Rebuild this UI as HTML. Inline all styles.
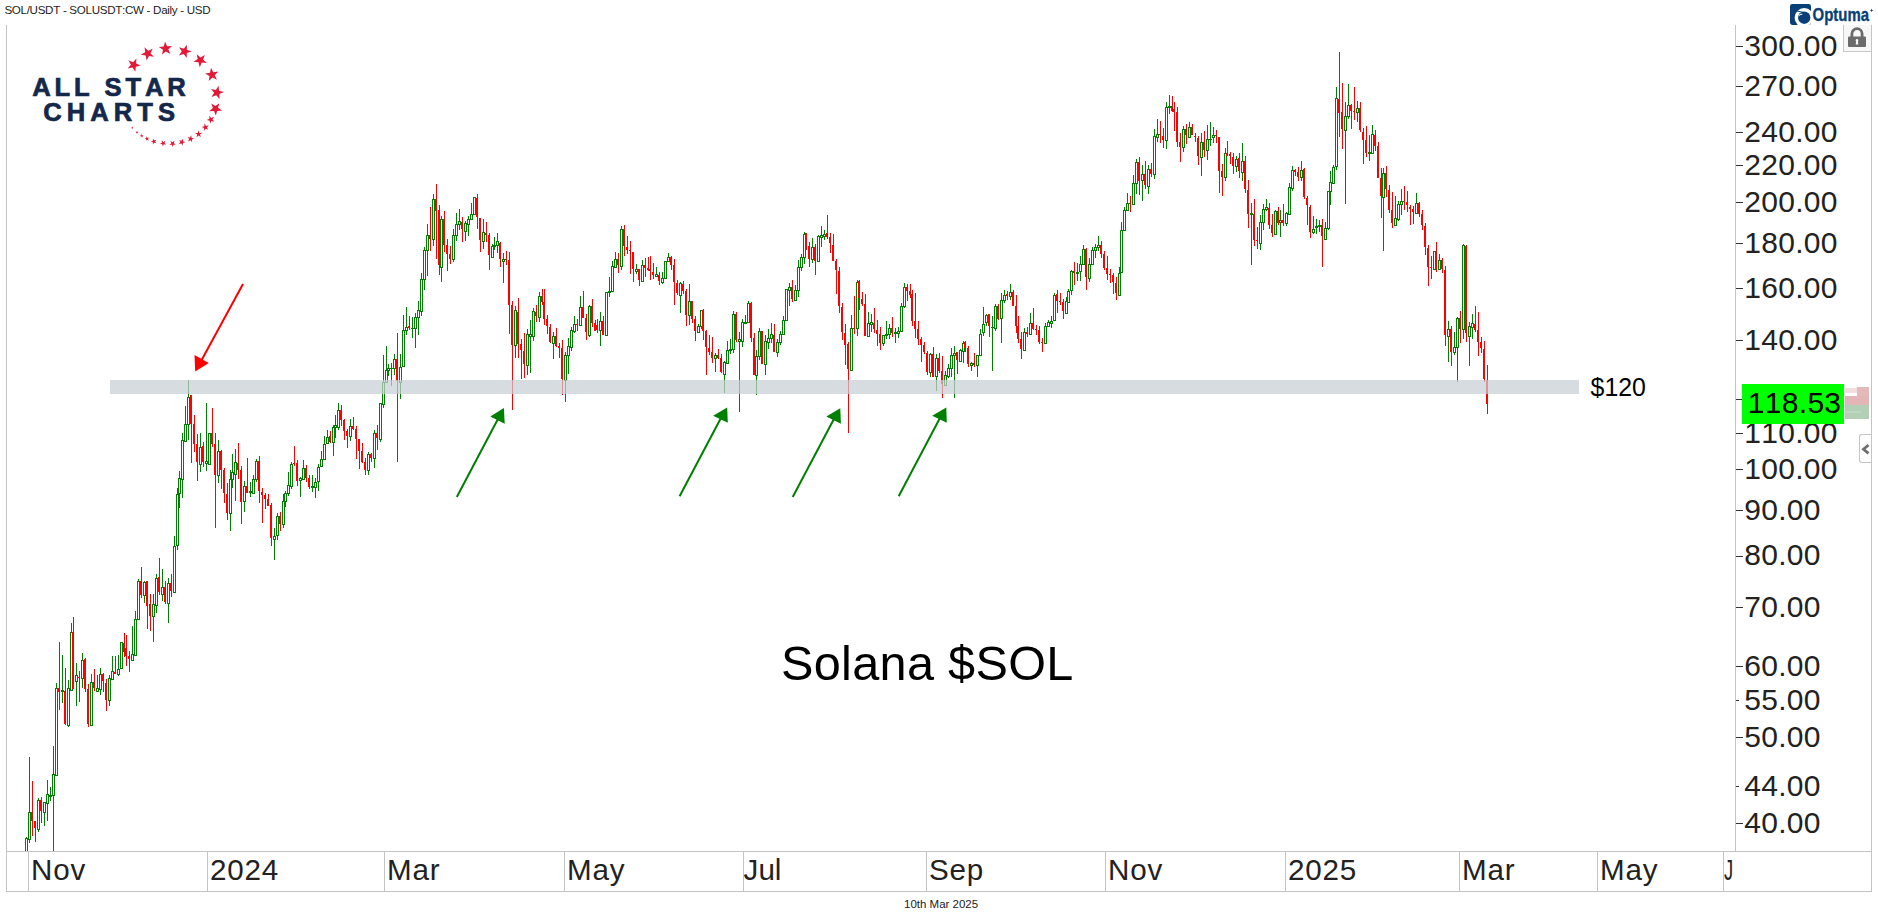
<!DOCTYPE html>
<html><head><meta charset="utf-8"><title>SOL/USDT</title>
<style>
html,body{margin:0;padding:0;background:#fff;}
body{font-kerning:none;width:1878px;height:924px;position:relative;overflow:hidden;font-family:"Liberation Sans",Arial,sans-serif;}
.abs{position:absolute;}
.ln{position:absolute;background:#c4c4c4;}
.pl{position:absolute;left:1744.2px;font-size:30px;line-height:30px;height:30px;color:#222;white-space:nowrap;letter-spacing:0.3px;}
.tk{position:absolute;left:1736px;width:7px;height:1px;background:#333;}
.dl{position:absolute;top:852.2px;font-size:29.6px;line-height:36px;color:#222;white-space:nowrap;letter-spacing:0.8px;}
.dt{position:absolute;top:852px;width:1px;height:39px;background:#c4c4c4;}
svg{position:absolute;left:0;top:0;}
</style></head><body>
<div class="abs" id="title" style="left:4.4px;top:1.8px;font-size:11.6px;line-height:15px;color:#1c1c1c;white-space:nowrap;letter-spacing:-0.3px;">SOL/USDT - SOLUSDT:CW - Daily - USD</div>

<div class="ln" style="left:6px;top:25px;width:1px;height:867px;"></div>
<div class="ln" style="left:1735px;top:25px;width:1px;height:827px;"></div>
<div class="ln" style="left:1871px;top:25px;width:1px;height:867px;"></div>
<div class="ln" style="left:6px;top:851px;width:1866px;height:1px;"></div>
<div class="ln" style="left:6px;top:891px;width:1866px;height:1px;"></div>
<div class="dt" style="left:28px;"></div><div class="dl" style="left:31px;">Nov</div>
<div class="dt" style="left:207px;"></div><div class="dl" style="left:210px;">2024</div>
<div class="dt" style="left:384px;"></div><div class="dl" style="left:387px;">Mar</div>
<div class="dt" style="left:564px;"></div><div class="dl" style="left:567px;">May</div>
<div class="dt" style="left:743px;"></div><div class="dl" style="left:743.6px;letter-spacing:0px;">Jul</div>
<div class="dt" style="left:926px;"></div><div class="dl" style="left:929px;">Sep</div>
<div class="dt" style="left:1105px;"></div><div class="dl" style="left:1108px;">Nov</div>
<div class="dt" style="left:1285px;"></div><div class="dl" style="left:1288px;">2025</div>
<div class="dt" style="left:1459px;"></div><div class="dl" style="left:1462px;">Mar</div>
<div class="dt" style="left:1597px;"></div><div class="dl" style="left:1600px;">May</div>
<div class="dt" style="left:1723px;"></div><div class="dl" style="left:1723.5px;width:9.5px;overflow:hidden;"><span style="display:inline-block;transform:scaleX(0.62);transform-origin:0 0;">Jul</span></div>
<div class="tk" style="top:46px;"></div><div class="pl" style="top:30.6px;">300.00</div>
<div class="tk" style="top:86px;"></div><div class="pl" style="top:71.2px;">270.00</div>
<div class="tk" style="top:132px;"></div><div class="pl" style="top:116.7px;">240.00</div>
<div class="tk" style="top:165px;"></div><div class="pl" style="top:150.2px;">220.00</div>
<div class="tk" style="top:202px;"></div><div class="pl" style="top:187.0px;">200.00</div>
<div class="tk" style="top:243px;"></div><div class="pl" style="top:227.6px;">180.00</div>
<div class="tk" style="top:288px;"></div><div class="pl" style="top:273.1px;">160.00</div>
<div class="tk" style="top:340px;"></div><div class="pl" style="top:324.6px;">140.00</div>
<div class="tk" style="top:433px;"></div><div class="pl" style="top:417.6px;">110.00</div>
<div class="tk" style="top:469px;"></div><div class="pl" style="top:454.3px;">100.00</div>
<div class="tk" style="top:510px;"></div><div class="pl" style="top:495.0px;">90.00</div>
<div class="tk" style="top:556px;"></div><div class="pl" style="top:540.4px;">80.00</div>
<div class="tk" style="top:607px;"></div><div class="pl" style="top:591.9px;">70.00</div>
<div class="tk" style="top:666px;"></div><div class="pl" style="top:651.4px;">60.00</div>
<div class="tk" style="top:700px;width:3px;"></div><div class="pl" style="top:684.9px;">55.00</div>
<div class="tk" style="top:737px;"></div><div class="pl" style="top:721.7px;">50.00</div>
<div class="tk" style="top:786px;width:3px;"></div><div class="pl" style="top:771.0px;">44.00</div>
<div class="tk" style="top:823px;"></div><div class="pl" style="top:807.7px;">40.00</div>
<div class="tk" style="top:399px;"></div>
<svg width="1878" height="851" viewBox="0 0 1878 851" shape-rendering="crispEdges">
<rect x="26" y="837" width="1" height="1" fill="#008000"/>
<rect x="25.5" y="838.5" width="2" height="13" fill="#fff" stroke="#008000" stroke-width="1"/>
<rect x="29" y="757" width="1" height="55" fill="#008000"/>
<rect x="29" y="839" width="1" height="4" fill="#008000"/>
<rect x="28.5" y="812.5" width="2" height="27" fill="#fff" stroke="#008000" stroke-width="1"/>
<rect x="32" y="781" width="1" height="55" fill="#ff0000"/>
<rect x="31" y="812" width="2" height="9" fill="#ff0000"/>
<rect x="35" y="821" width="1" height="21" fill="#ff0000"/>
<rect x="34" y="821" width="2" height="7" fill="#ff0000"/>
<rect x="38" y="798" width="1" height="2" fill="#008000"/>
<rect x="38" y="829" width="1" height="3" fill="#008000"/>
<rect x="37.5" y="800.5" width="2" height="29" fill="#fff" stroke="#008000" stroke-width="1"/>
<rect x="41" y="797" width="1" height="26" fill="#ff0000"/>
<rect x="40" y="800" width="2" height="11" fill="#ff0000"/>
<rect x="44" y="812" width="1" height="14" fill="#008000"/>
<rect x="43.5" y="802.5" width="2" height="10" fill="#fff" stroke="#008000" stroke-width="1"/>
<rect x="47" y="780" width="1" height="14" fill="#008000"/>
<rect x="47" y="803" width="1" height="18" fill="#008000"/>
<rect x="46.5" y="794.5" width="2" height="9" fill="#fff" stroke="#008000" stroke-width="1"/>
<rect x="50" y="787" width="1" height="8" fill="#008000"/>
<rect x="50" y="796" width="1" height="5" fill="#008000"/>
<rect x="49" y="795" width="3" height="2" fill="#008000"/>
<rect x="53" y="746" width="1" height="28" fill="#008000"/>
<rect x="53" y="795" width="1" height="56" fill="#008000"/>
<rect x="52.5" y="774.5" width="2" height="21" fill="#fff" stroke="#008000" stroke-width="1"/>
<rect x="56" y="683" width="1" height="5" fill="#008000"/>
<rect x="55.5" y="688.5" width="2" height="87" fill="#fff" stroke="#008000" stroke-width="1"/>
<rect x="59" y="642" width="1" height="68" fill="#ff0000"/>
<rect x="58" y="688" width="2" height="4" fill="#ff0000"/>
<rect x="62" y="655" width="1" height="35" fill="#008000"/>
<rect x="62" y="691" width="1" height="12" fill="#008000"/>
<rect x="61" y="690" width="3" height="2" fill="#008000"/>
<rect x="65" y="668" width="1" height="57" fill="#ff0000"/>
<rect x="64" y="691" width="2" height="33" fill="#ff0000"/>
<rect x="68" y="680" width="1" height="8" fill="#008000"/>
<rect x="68" y="725" width="1" height="2" fill="#008000"/>
<rect x="67.5" y="688.5" width="2" height="37" fill="#fff" stroke="#008000" stroke-width="1"/>
<rect x="71" y="623" width="1" height="9" fill="#008000"/>
<rect x="71" y="690" width="1" height="1" fill="#008000"/>
<rect x="70.5" y="632.5" width="2" height="58" fill="#fff" stroke="#008000" stroke-width="1"/>
<rect x="73" y="617" width="1" height="72" fill="#ff0000"/>
<rect x="72" y="632" width="2" height="57" fill="#ff0000"/>
<rect x="76" y="663" width="1" height="12" fill="#008000"/>
<rect x="76" y="681" width="1" height="25" fill="#008000"/>
<rect x="75.5" y="675.5" width="2" height="6" fill="#fff" stroke="#008000" stroke-width="1"/>
<rect x="79" y="671" width="1" height="31" fill="#ff0000"/>
<rect x="78" y="677" width="2" height="1" fill="#ff0000"/>
<rect x="82" y="653" width="1" height="7" fill="#008000"/>
<rect x="82" y="678" width="1" height="10" fill="#008000"/>
<rect x="81.5" y="660.5" width="2" height="18" fill="#fff" stroke="#008000" stroke-width="1"/>
<rect x="85" y="658" width="1" height="34" fill="#ff0000"/>
<rect x="84" y="659" width="2" height="30" fill="#ff0000"/>
<rect x="88" y="684" width="1" height="43" fill="#ff0000"/>
<rect x="87" y="689" width="2" height="35" fill="#ff0000"/>
<rect x="91" y="674" width="1" height="8" fill="#008000"/>
<rect x="90.5" y="682.5" width="2" height="43" fill="#fff" stroke="#008000" stroke-width="1"/>
<rect x="94" y="669" width="1" height="22" fill="#ff0000"/>
<rect x="93" y="682" width="2" height="6" fill="#ff0000"/>
<rect x="97" y="675" width="1" height="13" fill="#008000"/>
<rect x="96.5" y="688.5" width="2" height="3" fill="#fff" stroke="#008000" stroke-width="1"/>
<rect x="100" y="668" width="1" height="6" fill="#008000"/>
<rect x="100" y="689" width="1" height="6" fill="#008000"/>
<rect x="99.5" y="674.5" width="2" height="15" fill="#fff" stroke="#008000" stroke-width="1"/>
<rect x="103" y="673" width="1" height="19" fill="#ff0000"/>
<rect x="102" y="674" width="2" height="7" fill="#ff0000"/>
<rect x="106" y="679" width="1" height="32" fill="#ff0000"/>
<rect x="105" y="683" width="2" height="17" fill="#ff0000"/>
<rect x="109" y="675" width="1" height="3" fill="#008000"/>
<rect x="109" y="700" width="1" height="6" fill="#008000"/>
<rect x="108.5" y="678.5" width="2" height="22" fill="#fff" stroke="#008000" stroke-width="1"/>
<rect x="112" y="656" width="1" height="15" fill="#008000"/>
<rect x="112" y="679" width="1" height="1" fill="#008000"/>
<rect x="111.5" y="671.5" width="2" height="8" fill="#fff" stroke="#008000" stroke-width="1"/>
<rect x="115" y="656" width="1" height="18" fill="#ff0000"/>
<rect x="114" y="672" width="2" height="2" fill="#ff0000"/>
<rect x="118" y="655" width="1" height="14" fill="#008000"/>
<rect x="118" y="674" width="1" height="2" fill="#008000"/>
<rect x="117.5" y="669.5" width="2" height="5" fill="#fff" stroke="#008000" stroke-width="1"/>
<rect x="120.5" y="642.5" width="2" height="26" fill="#fff" stroke="#008000" stroke-width="1"/>
<rect x="124" y="633" width="1" height="24" fill="#ff0000"/>
<rect x="123" y="643" width="2" height="9" fill="#ff0000"/>
<rect x="126" y="635" width="1" height="31" fill="#ff0000"/>
<rect x="125" y="648" width="2" height="8" fill="#ff0000"/>
<rect x="129" y="651" width="1" height="21" fill="#ff0000"/>
<rect x="128" y="656" width="2" height="3" fill="#ff0000"/>
<rect x="132" y="626" width="1" height="28" fill="#008000"/>
<rect x="131.5" y="654.5" width="2" height="6" fill="#fff" stroke="#008000" stroke-width="1"/>
<rect x="135" y="611" width="1" height="8" fill="#008000"/>
<rect x="134.5" y="619.5" width="2" height="36" fill="#fff" stroke="#008000" stroke-width="1"/>
<rect x="138" y="579" width="1" height="2" fill="#008000"/>
<rect x="137.5" y="581.5" width="2" height="38" fill="#fff" stroke="#008000" stroke-width="1"/>
<rect x="141" y="567" width="1" height="31" fill="#ff0000"/>
<rect x="140" y="581" width="2" height="14" fill="#ff0000"/>
<rect x="144" y="581" width="1" height="1" fill="#008000"/>
<rect x="144" y="595" width="1" height="8" fill="#008000"/>
<rect x="143.5" y="582.5" width="2" height="13" fill="#fff" stroke="#008000" stroke-width="1"/>
<rect x="147" y="581" width="1" height="48" fill="#ff0000"/>
<rect x="146" y="581" width="2" height="25" fill="#ff0000"/>
<rect x="150" y="594" width="1" height="37" fill="#ff0000"/>
<rect x="149" y="604" width="2" height="12" fill="#ff0000"/>
<rect x="153" y="594" width="1" height="10" fill="#008000"/>
<rect x="153" y="616" width="1" height="26" fill="#008000"/>
<rect x="152.5" y="604.5" width="2" height="12" fill="#fff" stroke="#008000" stroke-width="1"/>
<rect x="156" y="574" width="1" height="4" fill="#008000"/>
<rect x="156" y="605" width="1" height="8" fill="#008000"/>
<rect x="155.5" y="578.5" width="2" height="27" fill="#fff" stroke="#008000" stroke-width="1"/>
<rect x="159" y="558" width="1" height="37" fill="#ff0000"/>
<rect x="158" y="577" width="2" height="15" fill="#ff0000"/>
<rect x="162" y="569" width="1" height="18" fill="#008000"/>
<rect x="162" y="594" width="1" height="7" fill="#008000"/>
<rect x="161.5" y="587.5" width="2" height="7" fill="#fff" stroke="#008000" stroke-width="1"/>
<rect x="165" y="581" width="1" height="23" fill="#ff0000"/>
<rect x="164" y="587" width="2" height="15" fill="#ff0000"/>
<rect x="168" y="578" width="1" height="5" fill="#008000"/>
<rect x="168" y="603" width="1" height="20" fill="#008000"/>
<rect x="167.5" y="583.5" width="2" height="20" fill="#fff" stroke="#008000" stroke-width="1"/>
<rect x="171" y="574" width="1" height="23" fill="#ff0000"/>
<rect x="170" y="583" width="2" height="8" fill="#ff0000"/>
<rect x="174" y="536" width="1" height="10" fill="#008000"/>
<rect x="173.5" y="546.5" width="2" height="46" fill="#fff" stroke="#008000" stroke-width="1"/>
<rect x="177" y="488" width="1" height="6" fill="#008000"/>
<rect x="177" y="545" width="1" height="5" fill="#008000"/>
<rect x="176.5" y="494.5" width="2" height="51" fill="#fff" stroke="#008000" stroke-width="1"/>
<rect x="179" y="471" width="1" height="7" fill="#008000"/>
<rect x="179" y="493" width="1" height="15" fill="#008000"/>
<rect x="178.5" y="478.5" width="2" height="15" fill="#fff" stroke="#008000" stroke-width="1"/>
<rect x="182" y="433" width="1" height="7" fill="#008000"/>
<rect x="182" y="479" width="1" height="19" fill="#008000"/>
<rect x="181.5" y="440.5" width="2" height="39" fill="#fff" stroke="#008000" stroke-width="1"/>
<rect x="185" y="406" width="1" height="18" fill="#008000"/>
<rect x="185" y="441" width="1" height="1" fill="#008000"/>
<rect x="184.5" y="424.5" width="2" height="17" fill="#fff" stroke="#008000" stroke-width="1"/>
<rect x="188" y="380" width="1" height="17" fill="#008000"/>
<rect x="188" y="424" width="1" height="16" fill="#008000"/>
<rect x="187.5" y="397.5" width="2" height="27" fill="#fff" stroke="#008000" stroke-width="1"/>
<rect x="191" y="395" width="1" height="68" fill="#ff0000"/>
<rect x="190" y="395" width="2" height="29" fill="#ff0000"/>
<rect x="194" y="415" width="1" height="37" fill="#ff0000"/>
<rect x="193" y="424" width="2" height="20" fill="#ff0000"/>
<rect x="197" y="434" width="1" height="47" fill="#ff0000"/>
<rect x="196" y="444" width="2" height="18" fill="#ff0000"/>
<rect x="200" y="433" width="1" height="14" fill="#008000"/>
<rect x="200" y="464" width="1" height="8" fill="#008000"/>
<rect x="199.5" y="447.5" width="2" height="17" fill="#fff" stroke="#008000" stroke-width="1"/>
<rect x="203" y="442" width="1" height="25" fill="#ff0000"/>
<rect x="202" y="446" width="2" height="16" fill="#ff0000"/>
<rect x="206" y="403" width="1" height="58" fill="#008000"/>
<rect x="206" y="463" width="1" height="8" fill="#008000"/>
<rect x="205.5" y="461.5" width="2" height="2" fill="#fff" stroke="#008000" stroke-width="1"/>
<rect x="208.5" y="433.5" width="2" height="31" fill="#fff" stroke="#008000" stroke-width="1"/>
<rect x="212" y="408" width="1" height="39" fill="#ff0000"/>
<rect x="211" y="433" width="2" height="11" fill="#ff0000"/>
<rect x="215" y="433" width="1" height="95" fill="#ff0000"/>
<rect x="214" y="444" width="2" height="31" fill="#ff0000"/>
<rect x="218" y="440" width="1" height="11" fill="#008000"/>
<rect x="218" y="475" width="1" height="8" fill="#008000"/>
<rect x="217.5" y="451.5" width="2" height="24" fill="#fff" stroke="#008000" stroke-width="1"/>
<rect x="221" y="450" width="1" height="39" fill="#ff0000"/>
<rect x="220" y="451" width="2" height="19" fill="#ff0000"/>
<rect x="224" y="468" width="1" height="35" fill="#ff0000"/>
<rect x="223" y="470" width="2" height="23" fill="#ff0000"/>
<rect x="227" y="483" width="1" height="37" fill="#ff0000"/>
<rect x="226" y="494" width="2" height="19" fill="#ff0000"/>
<rect x="230" y="470" width="1" height="9" fill="#008000"/>
<rect x="230" y="513" width="1" height="18" fill="#008000"/>
<rect x="229.5" y="479.5" width="2" height="34" fill="#fff" stroke="#008000" stroke-width="1"/>
<rect x="232" y="454" width="1" height="18" fill="#008000"/>
<rect x="232" y="479" width="1" height="9" fill="#008000"/>
<rect x="231.5" y="472.5" width="2" height="7" fill="#fff" stroke="#008000" stroke-width="1"/>
<rect x="235" y="449" width="1" height="13" fill="#008000"/>
<rect x="235" y="474" width="1" height="27" fill="#008000"/>
<rect x="234.5" y="462.5" width="2" height="12" fill="#fff" stroke="#008000" stroke-width="1"/>
<rect x="238" y="443" width="1" height="36" fill="#ff0000"/>
<rect x="237" y="463" width="2" height="7" fill="#ff0000"/>
<rect x="241" y="466" width="1" height="58" fill="#ff0000"/>
<rect x="240" y="470" width="2" height="32" fill="#ff0000"/>
<rect x="244" y="481" width="1" height="5" fill="#008000"/>
<rect x="244" y="501" width="1" height="11" fill="#008000"/>
<rect x="243.5" y="486.5" width="2" height="15" fill="#fff" stroke="#008000" stroke-width="1"/>
<rect x="247" y="458" width="1" height="35" fill="#ff0000"/>
<rect x="246" y="486" width="2" height="7" fill="#ff0000"/>
<rect x="250" y="482" width="1" height="9" fill="#008000"/>
<rect x="250" y="492" width="1" height="5" fill="#008000"/>
<rect x="249" y="491" width="3" height="2" fill="#008000"/>
<rect x="253" y="475" width="1" height="4" fill="#008000"/>
<rect x="252.5" y="479.5" width="2" height="14" fill="#fff" stroke="#008000" stroke-width="1"/>
<rect x="256" y="459" width="1" height="2" fill="#008000"/>
<rect x="256" y="479" width="1" height="3" fill="#008000"/>
<rect x="255.5" y="461.5" width="2" height="18" fill="#fff" stroke="#008000" stroke-width="1"/>
<rect x="259" y="456" width="1" height="47" fill="#ff0000"/>
<rect x="258" y="461" width="2" height="30" fill="#ff0000"/>
<rect x="262" y="488" width="1" height="35" fill="#ff0000"/>
<rect x="261" y="492" width="2" height="3" fill="#ff0000"/>
<rect x="265" y="493" width="1" height="16" fill="#ff0000"/>
<rect x="264" y="495" width="2" height="4" fill="#ff0000"/>
<rect x="268" y="494" width="1" height="12" fill="#ff0000"/>
<rect x="267" y="499" width="2" height="7" fill="#ff0000"/>
<rect x="271" y="503" width="1" height="43" fill="#ff0000"/>
<rect x="270" y="505" width="2" height="33" fill="#ff0000"/>
<rect x="274" y="528" width="1" height="8" fill="#008000"/>
<rect x="274" y="539" width="1" height="21" fill="#008000"/>
<rect x="273.5" y="536.5" width="2" height="3" fill="#fff" stroke="#008000" stroke-width="1"/>
<rect x="277" y="513" width="1" height="3" fill="#008000"/>
<rect x="277" y="535" width="1" height="5" fill="#008000"/>
<rect x="276.5" y="516.5" width="2" height="19" fill="#fff" stroke="#008000" stroke-width="1"/>
<rect x="280" y="512" width="1" height="19" fill="#ff0000"/>
<rect x="279" y="516" width="2" height="8" fill="#ff0000"/>
<rect x="283" y="494" width="1" height="7" fill="#008000"/>
<rect x="283" y="524" width="1" height="4" fill="#008000"/>
<rect x="282.5" y="501.5" width="2" height="23" fill="#fff" stroke="#008000" stroke-width="1"/>
<rect x="285" y="491" width="1" height="2" fill="#008000"/>
<rect x="285" y="501" width="1" height="6" fill="#008000"/>
<rect x="284.5" y="493.5" width="2" height="8" fill="#fff" stroke="#008000" stroke-width="1"/>
<rect x="288" y="472" width="1" height="13" fill="#008000"/>
<rect x="288" y="493" width="1" height="3" fill="#008000"/>
<rect x="287.5" y="485.5" width="2" height="8" fill="#fff" stroke="#008000" stroke-width="1"/>
<rect x="291" y="462" width="1" height="2" fill="#008000"/>
<rect x="291" y="486" width="1" height="3" fill="#008000"/>
<rect x="290.5" y="464.5" width="2" height="22" fill="#fff" stroke="#008000" stroke-width="1"/>
<rect x="294" y="446" width="1" height="20" fill="#ff0000"/>
<rect x="293" y="463" width="2" height="1" fill="#ff0000"/>
<rect x="297" y="460" width="1" height="26" fill="#ff0000"/>
<rect x="296" y="463" width="2" height="18" fill="#ff0000"/>
<rect x="300" y="477" width="1" height="1" fill="#008000"/>
<rect x="300" y="480" width="1" height="17" fill="#008000"/>
<rect x="299.5" y="478.5" width="2" height="2" fill="#fff" stroke="#008000" stroke-width="1"/>
<rect x="303" y="460" width="1" height="8" fill="#008000"/>
<rect x="302.5" y="468.5" width="2" height="11" fill="#fff" stroke="#008000" stroke-width="1"/>
<rect x="306" y="465" width="1" height="17" fill="#ff0000"/>
<rect x="305" y="468" width="2" height="10" fill="#ff0000"/>
<rect x="309" y="475" width="1" height="14" fill="#ff0000"/>
<rect x="308" y="478" width="2" height="9" fill="#ff0000"/>
<rect x="312" y="475" width="1" height="11" fill="#008000"/>
<rect x="312" y="487" width="1" height="5" fill="#008000"/>
<rect x="311" y="486" width="3" height="2" fill="#008000"/>
<rect x="315" y="478" width="1" height="4" fill="#008000"/>
<rect x="315" y="487" width="1" height="11" fill="#008000"/>
<rect x="314.5" y="482.5" width="2" height="5" fill="#fff" stroke="#008000" stroke-width="1"/>
<rect x="318" y="464" width="1" height="3" fill="#008000"/>
<rect x="318" y="481" width="1" height="10" fill="#008000"/>
<rect x="317.5" y="467.5" width="2" height="14" fill="#fff" stroke="#008000" stroke-width="1"/>
<rect x="321" y="451" width="1" height="8" fill="#008000"/>
<rect x="321" y="466" width="1" height="1" fill="#008000"/>
<rect x="320.5" y="459.5" width="2" height="7" fill="#fff" stroke="#008000" stroke-width="1"/>
<rect x="324" y="436" width="1" height="8" fill="#008000"/>
<rect x="323.5" y="444.5" width="2" height="15" fill="#fff" stroke="#008000" stroke-width="1"/>
<rect x="327" y="430" width="1" height="7" fill="#008000"/>
<rect x="327" y="443" width="1" height="1" fill="#008000"/>
<rect x="326.5" y="437.5" width="2" height="6" fill="#fff" stroke="#008000" stroke-width="1"/>
<rect x="330" y="431" width="1" height="12" fill="#ff0000"/>
<rect x="329" y="436" width="2" height="6" fill="#ff0000"/>
<rect x="333" y="425" width="1" height="2" fill="#008000"/>
<rect x="333" y="442" width="1" height="14" fill="#008000"/>
<rect x="332.5" y="427.5" width="2" height="15" fill="#fff" stroke="#008000" stroke-width="1"/>
<rect x="335" y="415" width="1" height="10" fill="#008000"/>
<rect x="335" y="427" width="1" height="11" fill="#008000"/>
<rect x="334.5" y="425.5" width="2" height="2" fill="#fff" stroke="#008000" stroke-width="1"/>
<rect x="338" y="403" width="1" height="7" fill="#008000"/>
<rect x="338" y="427" width="1" height="3" fill="#008000"/>
<rect x="337.5" y="410.5" width="2" height="17" fill="#fff" stroke="#008000" stroke-width="1"/>
<rect x="341" y="405" width="1" height="21" fill="#ff0000"/>
<rect x="340" y="410" width="2" height="10" fill="#ff0000"/>
<rect x="344" y="419" width="1" height="21" fill="#ff0000"/>
<rect x="343" y="420" width="2" height="11" fill="#ff0000"/>
<rect x="347" y="429" width="1" height="19" fill="#ff0000"/>
<rect x="346" y="431" width="2" height="5" fill="#ff0000"/>
<rect x="350" y="419" width="1" height="7" fill="#008000"/>
<rect x="350" y="436" width="1" height="5" fill="#008000"/>
<rect x="349.5" y="426.5" width="2" height="10" fill="#fff" stroke="#008000" stroke-width="1"/>
<rect x="353" y="417" width="1" height="13" fill="#ff0000"/>
<rect x="352" y="426" width="2" height="3" fill="#ff0000"/>
<rect x="356" y="426" width="1" height="33" fill="#ff0000"/>
<rect x="355" y="429" width="2" height="10" fill="#ff0000"/>
<rect x="359" y="439" width="1" height="30" fill="#ff0000"/>
<rect x="358" y="439" width="2" height="12" fill="#ff0000"/>
<rect x="362" y="443" width="1" height="20" fill="#ff0000"/>
<rect x="361" y="451" width="2" height="11" fill="#ff0000"/>
<rect x="365" y="458" width="1" height="17" fill="#ff0000"/>
<rect x="364" y="462" width="2" height="8" fill="#ff0000"/>
<rect x="368" y="452" width="1" height="2" fill="#008000"/>
<rect x="368" y="470" width="1" height="5" fill="#008000"/>
<rect x="367.5" y="454.5" width="2" height="16" fill="#fff" stroke="#008000" stroke-width="1"/>
<rect x="371" y="453" width="1" height="9" fill="#ff0000"/>
<rect x="370" y="454" width="2" height="4" fill="#ff0000"/>
<rect x="374" y="430" width="1" height="3" fill="#008000"/>
<rect x="374" y="458" width="1" height="10" fill="#008000"/>
<rect x="373.5" y="433.5" width="2" height="25" fill="#fff" stroke="#008000" stroke-width="1"/>
<rect x="377" y="425" width="1" height="25" fill="#ff0000"/>
<rect x="376" y="433" width="2" height="5" fill="#ff0000"/>
<rect x="380" y="439" width="1" height="3" fill="#008000"/>
<rect x="379.5" y="403.5" width="2" height="36" fill="#fff" stroke="#008000" stroke-width="1"/>
<rect x="383" y="355" width="1" height="27" fill="#008000"/>
<rect x="383" y="404" width="1" height="4" fill="#008000"/>
<rect x="382.5" y="382.5" width="2" height="22" fill="#fff" stroke="#008000" stroke-width="1"/>
<rect x="386" y="346" width="1" height="24" fill="#008000"/>
<rect x="385.5" y="370.5" width="2" height="12" fill="#fff" stroke="#008000" stroke-width="1"/>
<rect x="388" y="364" width="1" height="4" fill="#008000"/>
<rect x="388" y="370" width="1" height="6" fill="#008000"/>
<rect x="387.5" y="368.5" width="2" height="2" fill="#fff" stroke="#008000" stroke-width="1"/>
<rect x="391" y="363" width="1" height="5" fill="#008000"/>
<rect x="391" y="368" width="1" height="18" fill="#008000"/>
<rect x="390" y="368" width="3" height="1" fill="#008000"/>
<rect x="394" y="354" width="1" height="5" fill="#008000"/>
<rect x="394" y="368" width="1" height="7" fill="#008000"/>
<rect x="393.5" y="359.5" width="2" height="9" fill="#fff" stroke="#008000" stroke-width="1"/>
<rect x="397" y="333" width="1" height="129" fill="#ff0000"/>
<rect x="396" y="359" width="2" height="22" fill="#ff0000"/>
<rect x="400" y="354" width="1" height="13" fill="#008000"/>
<rect x="400" y="382" width="1" height="17" fill="#008000"/>
<rect x="399.5" y="367.5" width="2" height="15" fill="#fff" stroke="#008000" stroke-width="1"/>
<rect x="403" y="315" width="1" height="15" fill="#008000"/>
<rect x="403" y="366" width="1" height="1" fill="#008000"/>
<rect x="402.5" y="330.5" width="2" height="36" fill="#fff" stroke="#008000" stroke-width="1"/>
<rect x="406" y="307" width="1" height="20" fill="#008000"/>
<rect x="406" y="330" width="1" height="5" fill="#008000"/>
<rect x="405.5" y="327.5" width="2" height="3" fill="#fff" stroke="#008000" stroke-width="1"/>
<rect x="409" y="316" width="1" height="14" fill="#ff0000"/>
<rect x="408" y="326" width="2" height="2" fill="#ff0000"/>
<rect x="412" y="317" width="1" height="11" fill="#008000"/>
<rect x="412" y="328" width="1" height="10" fill="#008000"/>
<rect x="411" y="328" width="3" height="1" fill="#008000"/>
<rect x="415" y="313" width="1" height="4" fill="#008000"/>
<rect x="415" y="328" width="1" height="20" fill="#008000"/>
<rect x="414.5" y="317.5" width="2" height="11" fill="#fff" stroke="#008000" stroke-width="1"/>
<rect x="418" y="301" width="1" height="9" fill="#008000"/>
<rect x="418" y="317" width="1" height="18" fill="#008000"/>
<rect x="417.5" y="310.5" width="2" height="7" fill="#fff" stroke="#008000" stroke-width="1"/>
<rect x="421" y="273" width="1" height="6" fill="#008000"/>
<rect x="421" y="311" width="1" height="5" fill="#008000"/>
<rect x="420.5" y="279.5" width="2" height="32" fill="#fff" stroke="#008000" stroke-width="1"/>
<rect x="424" y="247" width="1" height="3" fill="#008000"/>
<rect x="424" y="279" width="1" height="11" fill="#008000"/>
<rect x="423.5" y="250.5" width="2" height="29" fill="#fff" stroke="#008000" stroke-width="1"/>
<rect x="427" y="224" width="1" height="11" fill="#008000"/>
<rect x="427" y="250" width="1" height="26" fill="#008000"/>
<rect x="426.5" y="235.5" width="2" height="15" fill="#fff" stroke="#008000" stroke-width="1"/>
<rect x="430" y="207" width="1" height="44" fill="#ff0000"/>
<rect x="429" y="235" width="2" height="4" fill="#ff0000"/>
<rect x="433" y="194" width="1" height="5" fill="#008000"/>
<rect x="433" y="239" width="1" height="7" fill="#008000"/>
<rect x="432.5" y="199.5" width="2" height="40" fill="#fff" stroke="#008000" stroke-width="1"/>
<rect x="436" y="184" width="1" height="75" fill="#ff0000"/>
<rect x="435" y="199" width="2" height="12" fill="#ff0000"/>
<rect x="439" y="205" width="1" height="70" fill="#ff0000"/>
<rect x="438" y="210" width="2" height="55" fill="#ff0000"/>
<rect x="441" y="216" width="1" height="3" fill="#008000"/>
<rect x="441" y="267" width="1" height="15" fill="#008000"/>
<rect x="440.5" y="219.5" width="2" height="48" fill="#fff" stroke="#008000" stroke-width="1"/>
<rect x="444" y="211" width="1" height="41" fill="#ff0000"/>
<rect x="443" y="219" width="2" height="26" fill="#ff0000"/>
<rect x="447" y="239" width="1" height="32" fill="#ff0000"/>
<rect x="446" y="245" width="2" height="9" fill="#ff0000"/>
<rect x="450" y="246" width="1" height="18" fill="#ff0000"/>
<rect x="449" y="254" width="2" height="5" fill="#ff0000"/>
<rect x="453" y="229" width="1" height="6" fill="#008000"/>
<rect x="453" y="259" width="1" height="3" fill="#008000"/>
<rect x="452.5" y="235.5" width="2" height="24" fill="#fff" stroke="#008000" stroke-width="1"/>
<rect x="456" y="213" width="1" height="11" fill="#008000"/>
<rect x="456" y="235" width="1" height="6" fill="#008000"/>
<rect x="455.5" y="224.5" width="2" height="11" fill="#fff" stroke="#008000" stroke-width="1"/>
<rect x="459" y="209" width="1" height="12" fill="#008000"/>
<rect x="459" y="224" width="1" height="6" fill="#008000"/>
<rect x="458.5" y="221.5" width="2" height="3" fill="#fff" stroke="#008000" stroke-width="1"/>
<rect x="462" y="217" width="1" height="25" fill="#ff0000"/>
<rect x="461" y="222" width="2" height="7" fill="#ff0000"/>
<rect x="465" y="221" width="1" height="2" fill="#008000"/>
<rect x="465" y="231" width="1" height="10" fill="#008000"/>
<rect x="464.5" y="223.5" width="2" height="8" fill="#fff" stroke="#008000" stroke-width="1"/>
<rect x="468" y="216" width="1" height="3" fill="#008000"/>
<rect x="468" y="224" width="1" height="12" fill="#008000"/>
<rect x="467.5" y="219.5" width="2" height="5" fill="#fff" stroke="#008000" stroke-width="1"/>
<rect x="471" y="203" width="1" height="11" fill="#008000"/>
<rect x="471" y="219" width="1" height="1" fill="#008000"/>
<rect x="470.5" y="214.5" width="2" height="5" fill="#fff" stroke="#008000" stroke-width="1"/>
<rect x="473.5" y="197.5" width="2" height="17" fill="#fff" stroke="#008000" stroke-width="1"/>
<rect x="477" y="194" width="1" height="35" fill="#ff0000"/>
<rect x="476" y="198" width="2" height="19" fill="#ff0000"/>
<rect x="480" y="218" width="1" height="34" fill="#ff0000"/>
<rect x="479" y="218" width="2" height="22" fill="#ff0000"/>
<rect x="483" y="219" width="1" height="13" fill="#008000"/>
<rect x="483" y="241" width="1" height="8" fill="#008000"/>
<rect x="482.5" y="232.5" width="2" height="9" fill="#fff" stroke="#008000" stroke-width="1"/>
<rect x="486" y="222" width="1" height="20" fill="#ff0000"/>
<rect x="485" y="233" width="2" height="2" fill="#ff0000"/>
<rect x="489" y="233" width="1" height="37" fill="#ff0000"/>
<rect x="488" y="235" width="2" height="20" fill="#ff0000"/>
<rect x="492" y="244" width="1" height="2" fill="#008000"/>
<rect x="491.5" y="246.5" width="2" height="11" fill="#fff" stroke="#008000" stroke-width="1"/>
<rect x="494" y="237" width="1" height="8" fill="#008000"/>
<rect x="494" y="246" width="1" height="4" fill="#008000"/>
<rect x="493" y="245" width="3" height="2" fill="#008000"/>
<rect x="497" y="233" width="1" height="8" fill="#008000"/>
<rect x="497" y="245" width="1" height="8" fill="#008000"/>
<rect x="496.5" y="241.5" width="2" height="4" fill="#fff" stroke="#008000" stroke-width="1"/>
<rect x="500" y="242" width="1" height="25" fill="#ff0000"/>
<rect x="499" y="243" width="2" height="16" fill="#ff0000"/>
<rect x="503" y="253" width="1" height="6" fill="#008000"/>
<rect x="503" y="261" width="1" height="22" fill="#008000"/>
<rect x="502.5" y="259.5" width="2" height="2" fill="#fff" stroke="#008000" stroke-width="1"/>
<rect x="506" y="251" width="1" height="14" fill="#ff0000"/>
<rect x="505" y="259" width="2" height="1" fill="#ff0000"/>
<rect x="509" y="252" width="1" height="82" fill="#ff0000"/>
<rect x="508" y="260" width="2" height="45" fill="#ff0000"/>
<rect x="512" y="301" width="1" height="109" fill="#ff0000"/>
<rect x="511" y="305" width="2" height="40" fill="#ff0000"/>
<rect x="515" y="306" width="1" height="4" fill="#008000"/>
<rect x="515" y="345" width="1" height="13" fill="#008000"/>
<rect x="514.5" y="310.5" width="2" height="35" fill="#fff" stroke="#008000" stroke-width="1"/>
<rect x="518" y="298" width="1" height="60" fill="#ff0000"/>
<rect x="517" y="312" width="2" height="32" fill="#ff0000"/>
<rect x="521" y="339" width="1" height="40" fill="#ff0000"/>
<rect x="520" y="344" width="2" height="6" fill="#ff0000"/>
<rect x="524" y="333" width="1" height="45" fill="#ff0000"/>
<rect x="523" y="351" width="2" height="13" fill="#ff0000"/>
<rect x="527" y="329" width="1" height="5" fill="#008000"/>
<rect x="527" y="365" width="1" height="10" fill="#008000"/>
<rect x="526.5" y="334.5" width="2" height="31" fill="#fff" stroke="#008000" stroke-width="1"/>
<rect x="530" y="320" width="1" height="14" fill="#008000"/>
<rect x="530" y="336" width="1" height="37" fill="#008000"/>
<rect x="529.5" y="334.5" width="2" height="2" fill="#fff" stroke="#008000" stroke-width="1"/>
<rect x="533" y="308" width="1" height="3" fill="#008000"/>
<rect x="533" y="336" width="1" height="5" fill="#008000"/>
<rect x="532.5" y="311.5" width="2" height="25" fill="#fff" stroke="#008000" stroke-width="1"/>
<rect x="536" y="305" width="1" height="17" fill="#ff0000"/>
<rect x="535" y="312" width="2" height="4" fill="#ff0000"/>
<rect x="539" y="292" width="1" height="4" fill="#008000"/>
<rect x="539" y="317" width="1" height="5" fill="#008000"/>
<rect x="538.5" y="296.5" width="2" height="21" fill="#fff" stroke="#008000" stroke-width="1"/>
<rect x="542" y="289" width="1" height="16" fill="#ff0000"/>
<rect x="541" y="296" width="2" height="6" fill="#ff0000"/>
<rect x="544" y="289" width="1" height="36" fill="#ff0000"/>
<rect x="543" y="302" width="2" height="17" fill="#ff0000"/>
<rect x="547" y="315" width="1" height="19" fill="#ff0000"/>
<rect x="546" y="319" width="2" height="7" fill="#ff0000"/>
<rect x="550" y="324" width="1" height="19" fill="#ff0000"/>
<rect x="549" y="327" width="2" height="15" fill="#ff0000"/>
<rect x="553" y="332" width="1" height="4" fill="#008000"/>
<rect x="553" y="343" width="1" height="16" fill="#008000"/>
<rect x="552.5" y="336.5" width="2" height="7" fill="#fff" stroke="#008000" stroke-width="1"/>
<rect x="556" y="328" width="1" height="19" fill="#ff0000"/>
<rect x="555" y="336" width="2" height="10" fill="#ff0000"/>
<rect x="559" y="343" width="1" height="15" fill="#ff0000"/>
<rect x="558" y="346" width="2" height="2" fill="#ff0000"/>
<rect x="562" y="340" width="1" height="55" fill="#ff0000"/>
<rect x="561" y="348" width="2" height="31" fill="#ff0000"/>
<rect x="565" y="352" width="1" height="3" fill="#008000"/>
<rect x="565" y="380" width="1" height="22" fill="#008000"/>
<rect x="564.5" y="355.5" width="2" height="25" fill="#fff" stroke="#008000" stroke-width="1"/>
<rect x="568" y="338" width="1" height="8" fill="#008000"/>
<rect x="568" y="355" width="1" height="19" fill="#008000"/>
<rect x="567.5" y="346.5" width="2" height="9" fill="#fff" stroke="#008000" stroke-width="1"/>
<rect x="571" y="327" width="1" height="3" fill="#008000"/>
<rect x="571" y="347" width="1" height="4" fill="#008000"/>
<rect x="570.5" y="330.5" width="2" height="17" fill="#fff" stroke="#008000" stroke-width="1"/>
<rect x="574" y="316" width="1" height="8" fill="#008000"/>
<rect x="574" y="331" width="1" height="2" fill="#008000"/>
<rect x="573.5" y="324.5" width="2" height="7" fill="#fff" stroke="#008000" stroke-width="1"/>
<rect x="577" y="319" width="1" height="12" fill="#ff0000"/>
<rect x="576" y="324" width="2" height="1" fill="#ff0000"/>
<rect x="580" y="296" width="1" height="11" fill="#008000"/>
<rect x="579.5" y="307.5" width="2" height="18" fill="#fff" stroke="#008000" stroke-width="1"/>
<rect x="583" y="291" width="1" height="27" fill="#ff0000"/>
<rect x="582" y="307" width="2" height="11" fill="#ff0000"/>
<rect x="586" y="314" width="1" height="26" fill="#ff0000"/>
<rect x="585" y="318" width="2" height="14" fill="#ff0000"/>
<rect x="589" y="305" width="1" height="1" fill="#008000"/>
<rect x="589" y="335" width="1" height="2" fill="#008000"/>
<rect x="588.5" y="306.5" width="2" height="29" fill="#fff" stroke="#008000" stroke-width="1"/>
<rect x="592" y="299" width="1" height="28" fill="#ff0000"/>
<rect x="591" y="306" width="2" height="17" fill="#ff0000"/>
<rect x="595" y="320" width="1" height="11" fill="#ff0000"/>
<rect x="594" y="323" width="2" height="8" fill="#ff0000"/>
<rect x="597" y="319" width="1" height="14" fill="#ff0000"/>
<rect x="596" y="325" width="2" height="5" fill="#ff0000"/>
<rect x="600" y="312" width="1" height="9" fill="#008000"/>
<rect x="600" y="330" width="1" height="16" fill="#008000"/>
<rect x="599.5" y="321.5" width="2" height="9" fill="#fff" stroke="#008000" stroke-width="1"/>
<rect x="603" y="316" width="1" height="19" fill="#ff0000"/>
<rect x="602" y="321" width="2" height="14" fill="#ff0000"/>
<rect x="606" y="335" width="1" height="1" fill="#008000"/>
<rect x="605.5" y="292.5" width="2" height="43" fill="#fff" stroke="#008000" stroke-width="1"/>
<rect x="609" y="277" width="1" height="14" fill="#008000"/>
<rect x="609" y="292" width="1" height="5" fill="#008000"/>
<rect x="608" y="291" width="3" height="2" fill="#008000"/>
<rect x="612" y="261" width="1" height="5" fill="#008000"/>
<rect x="611.5" y="266.5" width="2" height="25" fill="#fff" stroke="#008000" stroke-width="1"/>
<rect x="615" y="252" width="1" height="7" fill="#008000"/>
<rect x="614.5" y="259.5" width="2" height="8" fill="#fff" stroke="#008000" stroke-width="1"/>
<rect x="618" y="253" width="1" height="20" fill="#ff0000"/>
<rect x="617" y="259" width="2" height="6" fill="#ff0000"/>
<rect x="621" y="226" width="1" height="3" fill="#008000"/>
<rect x="621" y="266" width="1" height="4" fill="#008000"/>
<rect x="620.5" y="229.5" width="2" height="37" fill="#fff" stroke="#008000" stroke-width="1"/>
<rect x="624" y="225" width="1" height="31" fill="#ff0000"/>
<rect x="623" y="229" width="2" height="17" fill="#ff0000"/>
<rect x="627" y="236" width="1" height="18" fill="#ff0000"/>
<rect x="626" y="247" width="2" height="3" fill="#ff0000"/>
<rect x="630" y="241" width="1" height="33" fill="#ff0000"/>
<rect x="629" y="250" width="2" height="1" fill="#ff0000"/>
<rect x="633" y="252" width="1" height="30" fill="#ff0000"/>
<rect x="632" y="252" width="2" height="17" fill="#ff0000"/>
<rect x="636" y="264" width="1" height="5" fill="#008000"/>
<rect x="636" y="271" width="1" height="3" fill="#008000"/>
<rect x="635.5" y="269.5" width="2" height="2" fill="#fff" stroke="#008000" stroke-width="1"/>
<rect x="639" y="269" width="1" height="17" fill="#ff0000"/>
<rect x="638" y="269" width="2" height="11" fill="#ff0000"/>
<rect x="642" y="260" width="1" height="5" fill="#008000"/>
<rect x="641.5" y="265.5" width="2" height="16" fill="#fff" stroke="#008000" stroke-width="1"/>
<rect x="645" y="258" width="1" height="19" fill="#ff0000"/>
<rect x="644" y="265" width="2" height="3" fill="#ff0000"/>
<rect x="648" y="257" width="1" height="14" fill="#ff0000"/>
<rect x="647" y="268" width="2" height="2" fill="#ff0000"/>
<rect x="650" y="256" width="1" height="24" fill="#ff0000"/>
<rect x="649" y="269" width="2" height="2" fill="#ff0000"/>
<rect x="653" y="263" width="1" height="16" fill="#ff0000"/>
<rect x="652" y="272" width="2" height="3" fill="#ff0000"/>
<rect x="656" y="267" width="1" height="7" fill="#008000"/>
<rect x="655.5" y="274.5" width="2" height="2" fill="#fff" stroke="#008000" stroke-width="1"/>
<rect x="659" y="272" width="1" height="13" fill="#ff0000"/>
<rect x="658" y="275" width="2" height="6" fill="#ff0000"/>
<rect x="662" y="272" width="1" height="6" fill="#008000"/>
<rect x="662" y="282" width="1" height="2" fill="#008000"/>
<rect x="661.5" y="278.5" width="2" height="4" fill="#fff" stroke="#008000" stroke-width="1"/>
<rect x="664.5" y="261.5" width="2" height="17" fill="#fff" stroke="#008000" stroke-width="1"/>
<rect x="668" y="253" width="1" height="4" fill="#008000"/>
<rect x="667.5" y="257.5" width="2" height="4" fill="#fff" stroke="#008000" stroke-width="1"/>
<rect x="671" y="256" width="1" height="14" fill="#ff0000"/>
<rect x="670" y="257" width="2" height="8" fill="#ff0000"/>
<rect x="674" y="259" width="1" height="46" fill="#ff0000"/>
<rect x="673" y="265" width="2" height="17" fill="#ff0000"/>
<rect x="677" y="280" width="1" height="15" fill="#ff0000"/>
<rect x="676" y="283" width="2" height="10" fill="#ff0000"/>
<rect x="680" y="282" width="1" height="1" fill="#008000"/>
<rect x="680" y="295" width="1" height="18" fill="#008000"/>
<rect x="679.5" y="283.5" width="2" height="12" fill="#fff" stroke="#008000" stroke-width="1"/>
<rect x="683" y="281" width="1" height="13" fill="#ff0000"/>
<rect x="682" y="284" width="2" height="7" fill="#ff0000"/>
<rect x="686" y="289" width="1" height="37" fill="#ff0000"/>
<rect x="685" y="291" width="2" height="24" fill="#ff0000"/>
<rect x="689" y="284" width="1" height="17" fill="#008000"/>
<rect x="689" y="315" width="1" height="10" fill="#008000"/>
<rect x="688.5" y="301.5" width="2" height="14" fill="#fff" stroke="#008000" stroke-width="1"/>
<rect x="692" y="301" width="1" height="22" fill="#ff0000"/>
<rect x="691" y="301" width="2" height="18" fill="#ff0000"/>
<rect x="695" y="316" width="1" height="25" fill="#ff0000"/>
<rect x="694" y="319" width="2" height="12" fill="#ff0000"/>
<rect x="698" y="324" width="1" height="2" fill="#008000"/>
<rect x="697.5" y="326.5" width="2" height="6" fill="#fff" stroke="#008000" stroke-width="1"/>
<rect x="701" y="326" width="1" height="3" fill="#008000"/>
<rect x="700.5" y="310.5" width="2" height="16" fill="#fff" stroke="#008000" stroke-width="1"/>
<rect x="703" y="309" width="1" height="31" fill="#ff0000"/>
<rect x="702" y="310" width="2" height="21" fill="#ff0000"/>
<rect x="706" y="330" width="1" height="45" fill="#ff0000"/>
<rect x="705" y="331" width="2" height="16" fill="#ff0000"/>
<rect x="709" y="335" width="1" height="20" fill="#ff0000"/>
<rect x="708" y="348" width="2" height="4" fill="#ff0000"/>
<rect x="712" y="337" width="1" height="26" fill="#ff0000"/>
<rect x="711" y="352" width="2" height="6" fill="#ff0000"/>
<rect x="715" y="353" width="1" height="2" fill="#008000"/>
<rect x="715" y="358" width="1" height="14" fill="#008000"/>
<rect x="714.5" y="355.5" width="2" height="3" fill="#fff" stroke="#008000" stroke-width="1"/>
<rect x="718" y="349" width="1" height="10" fill="#ff0000"/>
<rect x="717" y="355" width="2" height="3" fill="#ff0000"/>
<rect x="721" y="354" width="1" height="19" fill="#ff0000"/>
<rect x="720" y="358" width="2" height="14" fill="#ff0000"/>
<rect x="724" y="361" width="1" height="1" fill="#008000"/>
<rect x="724" y="374" width="1" height="19" fill="#008000"/>
<rect x="723.5" y="362.5" width="2" height="12" fill="#fff" stroke="#008000" stroke-width="1"/>
<rect x="727" y="341" width="1" height="9" fill="#008000"/>
<rect x="727" y="363" width="1" height="1" fill="#008000"/>
<rect x="726.5" y="350.5" width="2" height="13" fill="#fff" stroke="#008000" stroke-width="1"/>
<rect x="730" y="339" width="1" height="10" fill="#008000"/>
<rect x="730" y="350" width="1" height="4" fill="#008000"/>
<rect x="729" y="349" width="3" height="2" fill="#008000"/>
<rect x="733" y="311" width="1" height="3" fill="#008000"/>
<rect x="733" y="349" width="1" height="4" fill="#008000"/>
<rect x="732.5" y="314.5" width="2" height="35" fill="#fff" stroke="#008000" stroke-width="1"/>
<rect x="736" y="312" width="1" height="30" fill="#ff0000"/>
<rect x="735" y="314" width="2" height="26" fill="#ff0000"/>
<rect x="739" y="332" width="1" height="7" fill="#008000"/>
<rect x="739" y="341" width="1" height="71" fill="#008000"/>
<rect x="738.5" y="339.5" width="2" height="2" fill="#fff" stroke="#008000" stroke-width="1"/>
<rect x="742" y="319" width="1" height="3" fill="#008000"/>
<rect x="742" y="341" width="1" height="6" fill="#008000"/>
<rect x="741.5" y="322.5" width="2" height="19" fill="#fff" stroke="#008000" stroke-width="1"/>
<rect x="745" y="315" width="1" height="7" fill="#008000"/>
<rect x="744" y="322" width="3" height="2" fill="#008000"/>
<rect x="748" y="301" width="1" height="2" fill="#008000"/>
<rect x="747.5" y="303.5" width="2" height="19" fill="#fff" stroke="#008000" stroke-width="1"/>
<rect x="751" y="302" width="1" height="40" fill="#ff0000"/>
<rect x="750" y="303" width="2" height="35" fill="#ff0000"/>
<rect x="754" y="333" width="1" height="42" fill="#ff0000"/>
<rect x="753" y="338" width="2" height="37" fill="#ff0000"/>
<rect x="756" y="350" width="1" height="6" fill="#008000"/>
<rect x="756" y="375" width="1" height="20" fill="#008000"/>
<rect x="755.5" y="356.5" width="2" height="19" fill="#fff" stroke="#008000" stroke-width="1"/>
<rect x="759" y="328" width="1" height="3" fill="#008000"/>
<rect x="759" y="356" width="1" height="4" fill="#008000"/>
<rect x="758.5" y="331.5" width="2" height="25" fill="#fff" stroke="#008000" stroke-width="1"/>
<rect x="762" y="331" width="1" height="33" fill="#ff0000"/>
<rect x="761" y="331" width="2" height="33" fill="#ff0000"/>
<rect x="765" y="335" width="1" height="6" fill="#008000"/>
<rect x="765" y="364" width="1" height="11" fill="#008000"/>
<rect x="764.5" y="341.5" width="2" height="23" fill="#fff" stroke="#008000" stroke-width="1"/>
<rect x="768" y="329" width="1" height="9" fill="#008000"/>
<rect x="768" y="342" width="1" height="7" fill="#008000"/>
<rect x="767.5" y="338.5" width="2" height="4" fill="#fff" stroke="#008000" stroke-width="1"/>
<rect x="771" y="323" width="1" height="11" fill="#008000"/>
<rect x="771" y="338" width="1" height="5" fill="#008000"/>
<rect x="770.5" y="334.5" width="2" height="4" fill="#fff" stroke="#008000" stroke-width="1"/>
<rect x="774" y="324" width="1" height="28" fill="#ff0000"/>
<rect x="773" y="335" width="2" height="17" fill="#ff0000"/>
<rect x="777" y="339" width="1" height="3" fill="#008000"/>
<rect x="777" y="352" width="1" height="5" fill="#008000"/>
<rect x="776.5" y="342.5" width="2" height="10" fill="#fff" stroke="#008000" stroke-width="1"/>
<rect x="780" y="331" width="1" height="3" fill="#008000"/>
<rect x="780" y="342" width="1" height="3" fill="#008000"/>
<rect x="779.5" y="334.5" width="2" height="8" fill="#fff" stroke="#008000" stroke-width="1"/>
<rect x="783" y="316" width="1" height="4" fill="#008000"/>
<rect x="782.5" y="320.5" width="2" height="14" fill="#fff" stroke="#008000" stroke-width="1"/>
<rect x="786" y="320" width="1" height="1" fill="#008000"/>
<rect x="785.5" y="289.5" width="2" height="31" fill="#fff" stroke="#008000" stroke-width="1"/>
<rect x="789" y="283" width="1" height="4" fill="#008000"/>
<rect x="789" y="290" width="1" height="16" fill="#008000"/>
<rect x="788.5" y="287.5" width="2" height="3" fill="#fff" stroke="#008000" stroke-width="1"/>
<rect x="792" y="280" width="1" height="22" fill="#ff0000"/>
<rect x="791" y="287" width="2" height="12" fill="#ff0000"/>
<rect x="795" y="285" width="1" height="5" fill="#008000"/>
<rect x="794.5" y="290.5" width="2" height="10" fill="#fff" stroke="#008000" stroke-width="1"/>
<rect x="798" y="260" width="1" height="7" fill="#008000"/>
<rect x="798" y="290" width="1" height="7" fill="#008000"/>
<rect x="797.5" y="267.5" width="2" height="23" fill="#fff" stroke="#008000" stroke-width="1"/>
<rect x="801" y="254" width="1" height="3" fill="#008000"/>
<rect x="801" y="267" width="1" height="4" fill="#008000"/>
<rect x="800.5" y="257.5" width="2" height="10" fill="#fff" stroke="#008000" stroke-width="1"/>
<rect x="804" y="232" width="1" height="2" fill="#008000"/>
<rect x="804" y="257" width="1" height="7" fill="#008000"/>
<rect x="803.5" y="234.5" width="2" height="23" fill="#fff" stroke="#008000" stroke-width="1"/>
<rect x="806" y="233" width="1" height="17" fill="#ff0000"/>
<rect x="805" y="233" width="2" height="16" fill="#ff0000"/>
<rect x="809" y="242" width="1" height="25" fill="#ff0000"/>
<rect x="808" y="246" width="2" height="13" fill="#ff0000"/>
<rect x="812" y="238" width="1" height="9" fill="#008000"/>
<rect x="812" y="259" width="1" height="4" fill="#008000"/>
<rect x="811.5" y="247.5" width="2" height="12" fill="#fff" stroke="#008000" stroke-width="1"/>
<rect x="815" y="244" width="1" height="31" fill="#ff0000"/>
<rect x="814" y="247" width="2" height="14" fill="#ff0000"/>
<rect x="818" y="235" width="1" height="1" fill="#008000"/>
<rect x="817.5" y="236.5" width="2" height="25" fill="#fff" stroke="#008000" stroke-width="1"/>
<rect x="821" y="226" width="1" height="9" fill="#008000"/>
<rect x="821" y="237" width="1" height="10" fill="#008000"/>
<rect x="820.5" y="235.5" width="2" height="2" fill="#fff" stroke="#008000" stroke-width="1"/>
<rect x="824" y="230" width="1" height="4" fill="#008000"/>
<rect x="824" y="236" width="1" height="4" fill="#008000"/>
<rect x="823.5" y="234.5" width="2" height="2" fill="#fff" stroke="#008000" stroke-width="1"/>
<rect x="827" y="215" width="1" height="24" fill="#ff0000"/>
<rect x="826" y="233" width="2" height="4" fill="#ff0000"/>
<rect x="830" y="233" width="1" height="20" fill="#ff0000"/>
<rect x="829" y="237" width="2" height="6" fill="#ff0000"/>
<rect x="833" y="234" width="1" height="27" fill="#ff0000"/>
<rect x="832" y="245" width="2" height="16" fill="#ff0000"/>
<rect x="836" y="259" width="1" height="35" fill="#ff0000"/>
<rect x="835" y="261" width="2" height="9" fill="#ff0000"/>
<rect x="839" y="267" width="1" height="46" fill="#ff0000"/>
<rect x="838" y="271" width="2" height="35" fill="#ff0000"/>
<rect x="842" y="303" width="1" height="37" fill="#ff0000"/>
<rect x="841" y="307" width="2" height="25" fill="#ff0000"/>
<rect x="845" y="324" width="1" height="41" fill="#ff0000"/>
<rect x="844" y="333" width="2" height="12" fill="#ff0000"/>
<rect x="848" y="342" width="1" height="91" fill="#ff0000"/>
<rect x="847" y="344" width="2" height="25" fill="#ff0000"/>
<rect x="851" y="315" width="1" height="13" fill="#008000"/>
<rect x="850.5" y="328.5" width="2" height="42" fill="#fff" stroke="#008000" stroke-width="1"/>
<rect x="854" y="296" width="1" height="38" fill="#ff0000"/>
<rect x="853" y="328" width="2" height="1" fill="#ff0000"/>
<rect x="857" y="280" width="1" height="2" fill="#008000"/>
<rect x="857" y="328" width="1" height="8" fill="#008000"/>
<rect x="856.5" y="282.5" width="2" height="46" fill="#fff" stroke="#008000" stroke-width="1"/>
<rect x="859" y="280" width="1" height="30" fill="#ff0000"/>
<rect x="858" y="281" width="2" height="17" fill="#ff0000"/>
<rect x="862" y="292" width="1" height="14" fill="#ff0000"/>
<rect x="861" y="299" width="2" height="5" fill="#ff0000"/>
<rect x="865" y="294" width="1" height="42" fill="#ff0000"/>
<rect x="864" y="304" width="2" height="32" fill="#ff0000"/>
<rect x="868" y="312" width="1" height="11" fill="#008000"/>
<rect x="867.5" y="323.5" width="2" height="13" fill="#fff" stroke="#008000" stroke-width="1"/>
<rect x="871" y="314" width="1" height="8" fill="#008000"/>
<rect x="871" y="324" width="1" height="8" fill="#008000"/>
<rect x="870.5" y="322.5" width="2" height="2" fill="#fff" stroke="#008000" stroke-width="1"/>
<rect x="874" y="308" width="1" height="25" fill="#ff0000"/>
<rect x="873" y="323" width="2" height="6" fill="#ff0000"/>
<rect x="877" y="320" width="1" height="26" fill="#ff0000"/>
<rect x="876" y="330" width="2" height="4" fill="#ff0000"/>
<rect x="880" y="327" width="1" height="23" fill="#ff0000"/>
<rect x="879" y="334" width="2" height="9" fill="#ff0000"/>
<rect x="883" y="343" width="1" height="3" fill="#008000"/>
<rect x="882.5" y="335.5" width="2" height="8" fill="#fff" stroke="#008000" stroke-width="1"/>
<rect x="886" y="321" width="1" height="13" fill="#008000"/>
<rect x="886" y="335" width="1" height="4" fill="#008000"/>
<rect x="885" y="334" width="3" height="2" fill="#008000"/>
<rect x="889" y="324" width="1" height="4" fill="#008000"/>
<rect x="889" y="334" width="1" height="5" fill="#008000"/>
<rect x="888.5" y="328.5" width="2" height="6" fill="#fff" stroke="#008000" stroke-width="1"/>
<rect x="892" y="317" width="1" height="20" fill="#ff0000"/>
<rect x="891" y="328" width="2" height="5" fill="#ff0000"/>
<rect x="895" y="328" width="1" height="4" fill="#008000"/>
<rect x="895" y="333" width="1" height="10" fill="#008000"/>
<rect x="894" y="332" width="3" height="2" fill="#008000"/>
<rect x="898" y="327" width="1" height="4" fill="#008000"/>
<rect x="898" y="333" width="1" height="5" fill="#008000"/>
<rect x="897.5" y="331.5" width="2" height="2" fill="#fff" stroke="#008000" stroke-width="1"/>
<rect x="901" y="303" width="1" height="3" fill="#008000"/>
<rect x="901" y="331" width="1" height="1" fill="#008000"/>
<rect x="900.5" y="306.5" width="2" height="25" fill="#fff" stroke="#008000" stroke-width="1"/>
<rect x="904" y="283" width="1" height="4" fill="#008000"/>
<rect x="904" y="306" width="1" height="2" fill="#008000"/>
<rect x="903.5" y="287.5" width="2" height="19" fill="#fff" stroke="#008000" stroke-width="1"/>
<rect x="907" y="284" width="1" height="17" fill="#ff0000"/>
<rect x="906" y="287" width="2" height="4" fill="#ff0000"/>
<rect x="910" y="284" width="1" height="14" fill="#ff0000"/>
<rect x="909" y="291" width="2" height="4" fill="#ff0000"/>
<rect x="912" y="290" width="1" height="36" fill="#ff0000"/>
<rect x="911" y="294" width="2" height="27" fill="#ff0000"/>
<rect x="915" y="293" width="1" height="45" fill="#ff0000"/>
<rect x="914" y="321" width="2" height="8" fill="#ff0000"/>
<rect x="918" y="321" width="1" height="24" fill="#ff0000"/>
<rect x="917" y="329" width="2" height="10" fill="#ff0000"/>
<rect x="921" y="337" width="1" height="25" fill="#ff0000"/>
<rect x="920" y="339" width="2" height="6" fill="#ff0000"/>
<rect x="924" y="342" width="1" height="12" fill="#ff0000"/>
<rect x="923" y="345" width="2" height="7" fill="#ff0000"/>
<rect x="927" y="351" width="1" height="24" fill="#ff0000"/>
<rect x="926" y="353" width="2" height="19" fill="#ff0000"/>
<rect x="930" y="353" width="1" height="1" fill="#008000"/>
<rect x="930" y="372" width="1" height="5" fill="#008000"/>
<rect x="929.5" y="354.5" width="2" height="18" fill="#fff" stroke="#008000" stroke-width="1"/>
<rect x="933" y="347" width="1" height="30" fill="#ff0000"/>
<rect x="932" y="354" width="2" height="23" fill="#ff0000"/>
<rect x="936" y="354" width="1" height="4" fill="#008000"/>
<rect x="936" y="376" width="1" height="15" fill="#008000"/>
<rect x="935.5" y="358.5" width="2" height="18" fill="#fff" stroke="#008000" stroke-width="1"/>
<rect x="939" y="353" width="1" height="20" fill="#ff0000"/>
<rect x="938" y="358" width="2" height="13" fill="#ff0000"/>
<rect x="942" y="356" width="1" height="42" fill="#ff0000"/>
<rect x="941" y="371" width="2" height="13" fill="#ff0000"/>
<rect x="945" y="371" width="1" height="4" fill="#008000"/>
<rect x="945" y="385" width="1" height="1" fill="#008000"/>
<rect x="944.5" y="375.5" width="2" height="10" fill="#fff" stroke="#008000" stroke-width="1"/>
<rect x="948" y="364" width="1" height="4" fill="#008000"/>
<rect x="948" y="376" width="1" height="2" fill="#008000"/>
<rect x="947.5" y="368.5" width="2" height="8" fill="#fff" stroke="#008000" stroke-width="1"/>
<rect x="951" y="348" width="1" height="7" fill="#008000"/>
<rect x="951" y="368" width="1" height="9" fill="#008000"/>
<rect x="950.5" y="355.5" width="2" height="13" fill="#fff" stroke="#008000" stroke-width="1"/>
<rect x="954" y="346" width="1" height="7" fill="#008000"/>
<rect x="954" y="355" width="1" height="43" fill="#008000"/>
<rect x="953.5" y="353.5" width="2" height="2" fill="#fff" stroke="#008000" stroke-width="1"/>
<rect x="957" y="352" width="1" height="22" fill="#ff0000"/>
<rect x="956" y="352" width="2" height="8" fill="#ff0000"/>
<rect x="960" y="349" width="1" height="1" fill="#008000"/>
<rect x="959.5" y="350.5" width="2" height="11" fill="#fff" stroke="#008000" stroke-width="1"/>
<rect x="963" y="341" width="1" height="2" fill="#008000"/>
<rect x="963" y="351" width="1" height="12" fill="#008000"/>
<rect x="962.5" y="343.5" width="2" height="8" fill="#fff" stroke="#008000" stroke-width="1"/>
<rect x="965" y="341" width="1" height="11" fill="#ff0000"/>
<rect x="964" y="342" width="2" height="6" fill="#ff0000"/>
<rect x="968" y="346" width="1" height="21" fill="#ff0000"/>
<rect x="967" y="348" width="2" height="16" fill="#ff0000"/>
<rect x="971" y="362" width="1" height="1" fill="#008000"/>
<rect x="971" y="365" width="1" height="6" fill="#008000"/>
<rect x="970.5" y="363.5" width="2" height="2" fill="#fff" stroke="#008000" stroke-width="1"/>
<rect x="974" y="353" width="1" height="14" fill="#ff0000"/>
<rect x="973" y="363" width="2" height="2" fill="#ff0000"/>
<rect x="977" y="365" width="1" height="12" fill="#008000"/>
<rect x="976.5" y="355.5" width="2" height="10" fill="#fff" stroke="#008000" stroke-width="1"/>
<rect x="980" y="329" width="1" height="5" fill="#008000"/>
<rect x="979.5" y="334.5" width="2" height="21" fill="#fff" stroke="#008000" stroke-width="1"/>
<rect x="983" y="307" width="1" height="17" fill="#008000"/>
<rect x="983" y="332" width="1" height="4" fill="#008000"/>
<rect x="982.5" y="324.5" width="2" height="8" fill="#fff" stroke="#008000" stroke-width="1"/>
<rect x="986" y="314" width="1" height="1" fill="#008000"/>
<rect x="986" y="322" width="1" height="4" fill="#008000"/>
<rect x="985.5" y="315.5" width="2" height="7" fill="#fff" stroke="#008000" stroke-width="1"/>
<rect x="989" y="314" width="1" height="23" fill="#ff0000"/>
<rect x="988" y="314" width="2" height="12" fill="#ff0000"/>
<rect x="992" y="316" width="1" height="11" fill="#008000"/>
<rect x="992" y="327" width="1" height="44" fill="#008000"/>
<rect x="991" y="327" width="3" height="1" fill="#008000"/>
<rect x="995" y="304" width="1" height="2" fill="#008000"/>
<rect x="995" y="328" width="1" height="3" fill="#008000"/>
<rect x="994.5" y="306.5" width="2" height="22" fill="#fff" stroke="#008000" stroke-width="1"/>
<rect x="998" y="304" width="1" height="16" fill="#ff0000"/>
<rect x="997" y="306" width="2" height="13" fill="#ff0000"/>
<rect x="1001" y="293" width="1" height="7" fill="#008000"/>
<rect x="1001" y="318" width="1" height="25" fill="#008000"/>
<rect x="1000.5" y="300.5" width="2" height="18" fill="#fff" stroke="#008000" stroke-width="1"/>
<rect x="1004" y="290" width="1" height="5" fill="#008000"/>
<rect x="1004" y="300" width="1" height="3" fill="#008000"/>
<rect x="1003.5" y="295.5" width="2" height="5" fill="#fff" stroke="#008000" stroke-width="1"/>
<rect x="1007" y="291" width="1" height="9" fill="#ff0000"/>
<rect x="1006" y="294" width="2" height="2" fill="#ff0000"/>
<rect x="1010" y="284" width="1" height="8" fill="#008000"/>
<rect x="1010" y="296" width="1" height="4" fill="#008000"/>
<rect x="1009.5" y="292.5" width="2" height="4" fill="#fff" stroke="#008000" stroke-width="1"/>
<rect x="1013" y="290" width="1" height="16" fill="#ff0000"/>
<rect x="1012" y="292" width="2" height="14" fill="#ff0000"/>
<rect x="1016" y="295" width="1" height="38" fill="#ff0000"/>
<rect x="1015" y="306" width="2" height="20" fill="#ff0000"/>
<rect x="1018" y="316" width="1" height="27" fill="#ff0000"/>
<rect x="1017" y="326" width="2" height="13" fill="#ff0000"/>
<rect x="1021" y="332" width="1" height="27" fill="#ff0000"/>
<rect x="1020" y="339" width="2" height="10" fill="#ff0000"/>
<rect x="1024" y="328" width="1" height="4" fill="#008000"/>
<rect x="1024" y="350" width="1" height="1" fill="#008000"/>
<rect x="1023.5" y="332.5" width="2" height="18" fill="#fff" stroke="#008000" stroke-width="1"/>
<rect x="1027" y="327" width="1" height="10" fill="#ff0000"/>
<rect x="1026" y="332" width="2" height="2" fill="#ff0000"/>
<rect x="1030" y="313" width="1" height="10" fill="#008000"/>
<rect x="1029.5" y="323.5" width="2" height="11" fill="#fff" stroke="#008000" stroke-width="1"/>
<rect x="1033" y="308" width="1" height="22" fill="#ff0000"/>
<rect x="1032" y="323" width="2" height="6" fill="#ff0000"/>
<rect x="1036" y="325" width="1" height="10" fill="#ff0000"/>
<rect x="1035" y="329" width="2" height="1" fill="#ff0000"/>
<rect x="1039" y="326" width="1" height="18" fill="#ff0000"/>
<rect x="1038" y="330" width="2" height="12" fill="#ff0000"/>
<rect x="1042" y="338" width="1" height="14" fill="#ff0000"/>
<rect x="1041" y="342" width="2" height="1" fill="#ff0000"/>
<rect x="1045" y="323" width="1" height="3" fill="#008000"/>
<rect x="1044.5" y="326.5" width="2" height="17" fill="#fff" stroke="#008000" stroke-width="1"/>
<rect x="1048" y="320" width="1" height="2" fill="#008000"/>
<rect x="1047.5" y="322.5" width="2" height="4" fill="#fff" stroke="#008000" stroke-width="1"/>
<rect x="1051" y="316" width="1" height="5" fill="#008000"/>
<rect x="1051" y="323" width="1" height="5" fill="#008000"/>
<rect x="1050.5" y="321.5" width="2" height="2" fill="#fff" stroke="#008000" stroke-width="1"/>
<rect x="1054" y="293" width="1" height="2" fill="#008000"/>
<rect x="1054" y="320" width="1" height="1" fill="#008000"/>
<rect x="1053.5" y="295.5" width="2" height="25" fill="#fff" stroke="#008000" stroke-width="1"/>
<rect x="1057" y="290" width="1" height="23" fill="#ff0000"/>
<rect x="1056" y="294" width="2" height="7" fill="#ff0000"/>
<rect x="1060" y="293" width="1" height="12" fill="#ff0000"/>
<rect x="1059" y="301" width="2" height="1" fill="#ff0000"/>
<rect x="1063" y="299" width="1" height="20" fill="#ff0000"/>
<rect x="1062" y="302" width="2" height="9" fill="#ff0000"/>
<rect x="1066" y="297" width="1" height="4" fill="#008000"/>
<rect x="1066" y="313" width="1" height="1" fill="#008000"/>
<rect x="1065.5" y="301.5" width="2" height="12" fill="#fff" stroke="#008000" stroke-width="1"/>
<rect x="1068" y="289" width="1" height="2" fill="#008000"/>
<rect x="1068" y="302" width="1" height="1" fill="#008000"/>
<rect x="1067.5" y="291.5" width="2" height="11" fill="#fff" stroke="#008000" stroke-width="1"/>
<rect x="1071" y="270" width="1" height="1" fill="#008000"/>
<rect x="1071" y="290" width="1" height="5" fill="#008000"/>
<rect x="1070.5" y="271.5" width="2" height="19" fill="#fff" stroke="#008000" stroke-width="1"/>
<rect x="1074" y="262" width="1" height="23" fill="#ff0000"/>
<rect x="1073" y="271" width="2" height="2" fill="#ff0000"/>
<rect x="1077" y="263" width="1" height="9" fill="#008000"/>
<rect x="1077" y="273" width="1" height="8" fill="#008000"/>
<rect x="1076" y="272" width="3" height="2" fill="#008000"/>
<rect x="1080" y="256" width="1" height="8" fill="#008000"/>
<rect x="1080" y="271" width="1" height="10" fill="#008000"/>
<rect x="1079.5" y="264.5" width="2" height="7" fill="#fff" stroke="#008000" stroke-width="1"/>
<rect x="1083" y="245" width="1" height="4" fill="#008000"/>
<rect x="1082.5" y="249.5" width="2" height="15" fill="#fff" stroke="#008000" stroke-width="1"/>
<rect x="1086" y="248" width="1" height="42" fill="#ff0000"/>
<rect x="1085" y="249" width="2" height="28" fill="#ff0000"/>
<rect x="1089" y="258" width="1" height="6" fill="#008000"/>
<rect x="1089" y="278" width="1" height="4" fill="#008000"/>
<rect x="1088.5" y="264.5" width="2" height="14" fill="#fff" stroke="#008000" stroke-width="1"/>
<rect x="1092" y="247" width="1" height="3" fill="#008000"/>
<rect x="1091.5" y="250.5" width="2" height="14" fill="#fff" stroke="#008000" stroke-width="1"/>
<rect x="1095" y="244" width="1" height="3" fill="#008000"/>
<rect x="1095" y="250" width="1" height="8" fill="#008000"/>
<rect x="1094.5" y="247.5" width="2" height="3" fill="#fff" stroke="#008000" stroke-width="1"/>
<rect x="1098" y="236" width="1" height="9" fill="#008000"/>
<rect x="1098" y="247" width="1" height="4" fill="#008000"/>
<rect x="1097.5" y="245.5" width="2" height="2" fill="#fff" stroke="#008000" stroke-width="1"/>
<rect x="1101" y="241" width="1" height="17" fill="#ff0000"/>
<rect x="1100" y="245" width="2" height="9" fill="#ff0000"/>
<rect x="1104" y="251" width="1" height="19" fill="#ff0000"/>
<rect x="1103" y="254" width="2" height="14" fill="#ff0000"/>
<rect x="1107" y="256" width="1" height="24" fill="#ff0000"/>
<rect x="1106" y="268" width="2" height="6" fill="#ff0000"/>
<rect x="1110" y="269" width="1" height="14" fill="#ff0000"/>
<rect x="1109" y="274" width="2" height="1" fill="#ff0000"/>
<rect x="1113" y="273" width="1" height="21" fill="#ff0000"/>
<rect x="1112" y="275" width="2" height="7" fill="#ff0000"/>
<rect x="1116" y="277" width="1" height="23" fill="#ff0000"/>
<rect x="1115" y="283" width="2" height="10" fill="#ff0000"/>
<rect x="1119" y="267" width="1" height="6" fill="#008000"/>
<rect x="1119" y="295" width="1" height="1" fill="#008000"/>
<rect x="1118.5" y="273.5" width="2" height="22" fill="#fff" stroke="#008000" stroke-width="1"/>
<rect x="1121" y="222" width="1" height="8" fill="#008000"/>
<rect x="1120.5" y="230.5" width="2" height="42" fill="#fff" stroke="#008000" stroke-width="1"/>
<rect x="1124" y="207" width="1" height="3" fill="#008000"/>
<rect x="1124" y="230" width="1" height="1" fill="#008000"/>
<rect x="1123.5" y="210.5" width="2" height="20" fill="#fff" stroke="#008000" stroke-width="1"/>
<rect x="1127" y="193" width="1" height="10" fill="#008000"/>
<rect x="1127" y="210" width="1" height="1" fill="#008000"/>
<rect x="1126.5" y="203.5" width="2" height="7" fill="#fff" stroke="#008000" stroke-width="1"/>
<rect x="1130" y="196" width="1" height="16" fill="#ff0000"/>
<rect x="1129" y="203" width="2" height="1" fill="#ff0000"/>
<rect x="1133" y="175" width="1" height="8" fill="#008000"/>
<rect x="1133" y="204" width="1" height="1" fill="#008000"/>
<rect x="1132.5" y="183.5" width="2" height="21" fill="#fff" stroke="#008000" stroke-width="1"/>
<rect x="1136" y="159" width="1" height="3" fill="#008000"/>
<rect x="1136" y="183" width="1" height="11" fill="#008000"/>
<rect x="1135.5" y="162.5" width="2" height="21" fill="#fff" stroke="#008000" stroke-width="1"/>
<rect x="1139" y="157" width="1" height="38" fill="#ff0000"/>
<rect x="1138" y="162" width="2" height="19" fill="#ff0000"/>
<rect x="1142" y="165" width="1" height="9" fill="#008000"/>
<rect x="1142" y="180" width="1" height="21" fill="#008000"/>
<rect x="1141.5" y="174.5" width="2" height="6" fill="#fff" stroke="#008000" stroke-width="1"/>
<rect x="1145" y="161" width="1" height="28" fill="#ff0000"/>
<rect x="1144" y="174" width="2" height="11" fill="#ff0000"/>
<rect x="1148" y="165" width="1" height="4" fill="#008000"/>
<rect x="1148" y="186" width="1" height="8" fill="#008000"/>
<rect x="1147.5" y="169.5" width="2" height="17" fill="#fff" stroke="#008000" stroke-width="1"/>
<rect x="1151" y="163" width="1" height="14" fill="#ff0000"/>
<rect x="1150" y="169" width="2" height="5" fill="#ff0000"/>
<rect x="1154" y="129" width="1" height="7" fill="#008000"/>
<rect x="1154" y="174" width="1" height="5" fill="#008000"/>
<rect x="1153.5" y="136.5" width="2" height="38" fill="#fff" stroke="#008000" stroke-width="1"/>
<rect x="1157" y="119" width="1" height="15" fill="#008000"/>
<rect x="1157" y="137" width="1" height="5" fill="#008000"/>
<rect x="1156.5" y="134.5" width="2" height="3" fill="#fff" stroke="#008000" stroke-width="1"/>
<rect x="1160" y="121" width="1" height="22" fill="#ff0000"/>
<rect x="1159" y="134" width="2" height="1" fill="#ff0000"/>
<rect x="1163" y="128" width="1" height="20" fill="#ff0000"/>
<rect x="1162" y="136" width="2" height="4" fill="#ff0000"/>
<rect x="1166" y="102" width="1" height="5" fill="#008000"/>
<rect x="1166" y="140" width="1" height="9" fill="#008000"/>
<rect x="1165.5" y="107.5" width="2" height="33" fill="#fff" stroke="#008000" stroke-width="1"/>
<rect x="1169" y="95" width="1" height="11" fill="#008000"/>
<rect x="1169" y="107" width="1" height="7" fill="#008000"/>
<rect x="1168" y="106" width="3" height="2" fill="#008000"/>
<rect x="1172" y="96" width="1" height="16" fill="#ff0000"/>
<rect x="1171" y="106" width="2" height="5" fill="#ff0000"/>
<rect x="1174" y="102" width="1" height="29" fill="#ff0000"/>
<rect x="1173" y="109" width="2" height="3" fill="#ff0000"/>
<rect x="1177" y="107" width="1" height="40" fill="#ff0000"/>
<rect x="1176" y="112" width="2" height="30" fill="#ff0000"/>
<rect x="1180" y="133" width="1" height="29" fill="#ff0000"/>
<rect x="1179" y="142" width="2" height="5" fill="#ff0000"/>
<rect x="1183" y="126" width="1" height="3" fill="#008000"/>
<rect x="1183" y="147" width="1" height="5" fill="#008000"/>
<rect x="1182.5" y="129.5" width="2" height="18" fill="#fff" stroke="#008000" stroke-width="1"/>
<rect x="1186" y="124" width="1" height="20" fill="#ff0000"/>
<rect x="1185" y="129" width="2" height="6" fill="#ff0000"/>
<rect x="1189" y="122" width="1" height="5" fill="#008000"/>
<rect x="1189" y="137" width="1" height="1" fill="#008000"/>
<rect x="1188.5" y="127.5" width="2" height="10" fill="#fff" stroke="#008000" stroke-width="1"/>
<rect x="1192" y="124" width="1" height="11" fill="#ff0000"/>
<rect x="1191" y="127" width="2" height="8" fill="#ff0000"/>
<rect x="1195" y="133" width="1" height="9" fill="#ff0000"/>
<rect x="1194" y="136" width="2" height="1" fill="#ff0000"/>
<rect x="1198" y="136" width="1" height="29" fill="#ff0000"/>
<rect x="1197" y="138" width="2" height="18" fill="#ff0000"/>
<rect x="1201" y="133" width="1" height="9" fill="#008000"/>
<rect x="1201" y="157" width="1" height="19" fill="#008000"/>
<rect x="1200.5" y="142.5" width="2" height="15" fill="#fff" stroke="#008000" stroke-width="1"/>
<rect x="1204" y="131" width="1" height="26" fill="#ff0000"/>
<rect x="1203" y="142" width="2" height="8" fill="#ff0000"/>
<rect x="1207" y="125" width="1" height="14" fill="#008000"/>
<rect x="1207" y="150" width="1" height="10" fill="#008000"/>
<rect x="1206.5" y="139.5" width="2" height="11" fill="#fff" stroke="#008000" stroke-width="1"/>
<rect x="1210" y="122" width="1" height="17" fill="#008000"/>
<rect x="1210" y="139" width="1" height="7" fill="#008000"/>
<rect x="1209" y="139" width="3" height="1" fill="#008000"/>
<rect x="1213" y="127" width="1" height="8" fill="#008000"/>
<rect x="1213" y="137" width="1" height="6" fill="#008000"/>
<rect x="1212.5" y="135.5" width="2" height="2" fill="#fff" stroke="#008000" stroke-width="1"/>
<rect x="1216" y="130" width="1" height="13" fill="#ff0000"/>
<rect x="1215" y="135" width="2" height="1" fill="#ff0000"/>
<rect x="1219" y="137" width="1" height="56" fill="#ff0000"/>
<rect x="1218" y="137" width="2" height="34" fill="#ff0000"/>
<rect x="1222" y="164" width="1" height="32" fill="#ff0000"/>
<rect x="1221" y="171" width="2" height="6" fill="#ff0000"/>
<rect x="1225" y="148" width="1" height="5" fill="#008000"/>
<rect x="1225" y="177" width="1" height="4" fill="#008000"/>
<rect x="1224.5" y="153.5" width="2" height="24" fill="#fff" stroke="#008000" stroke-width="1"/>
<rect x="1227" y="141" width="1" height="15" fill="#ff0000"/>
<rect x="1226" y="153" width="2" height="3" fill="#ff0000"/>
<rect x="1230" y="152" width="1" height="12" fill="#ff0000"/>
<rect x="1229" y="154" width="2" height="2" fill="#ff0000"/>
<rect x="1233" y="153" width="1" height="21" fill="#ff0000"/>
<rect x="1232" y="157" width="2" height="9" fill="#ff0000"/>
<rect x="1236" y="156" width="1" height="3" fill="#008000"/>
<rect x="1236" y="166" width="1" height="6" fill="#008000"/>
<rect x="1235.5" y="159.5" width="2" height="7" fill="#fff" stroke="#008000" stroke-width="1"/>
<rect x="1239" y="153" width="1" height="25" fill="#ff0000"/>
<rect x="1238" y="158" width="2" height="13" fill="#ff0000"/>
<rect x="1242" y="143" width="1" height="18" fill="#008000"/>
<rect x="1242" y="172" width="1" height="9" fill="#008000"/>
<rect x="1241.5" y="161.5" width="2" height="11" fill="#fff" stroke="#008000" stroke-width="1"/>
<rect x="1245" y="156" width="1" height="37" fill="#ff0000"/>
<rect x="1244" y="161" width="2" height="28" fill="#ff0000"/>
<rect x="1248" y="180" width="1" height="48" fill="#ff0000"/>
<rect x="1247" y="190" width="2" height="24" fill="#ff0000"/>
<rect x="1251" y="203" width="1" height="10" fill="#008000"/>
<rect x="1251" y="214" width="1" height="51" fill="#008000"/>
<rect x="1250" y="213" width="3" height="2" fill="#008000"/>
<rect x="1254" y="199" width="1" height="47" fill="#ff0000"/>
<rect x="1253" y="214" width="2" height="26" fill="#ff0000"/>
<rect x="1257" y="227" width="1" height="22" fill="#ff0000"/>
<rect x="1256" y="240" width="2" height="1" fill="#ff0000"/>
<rect x="1260" y="215" width="1" height="7" fill="#008000"/>
<rect x="1260" y="243" width="1" height="7" fill="#008000"/>
<rect x="1259.5" y="222.5" width="2" height="21" fill="#fff" stroke="#008000" stroke-width="1"/>
<rect x="1263" y="204" width="1" height="5" fill="#008000"/>
<rect x="1263" y="222" width="1" height="8" fill="#008000"/>
<rect x="1262.5" y="209.5" width="2" height="13" fill="#fff" stroke="#008000" stroke-width="1"/>
<rect x="1266" y="199" width="1" height="8" fill="#008000"/>
<rect x="1266" y="209" width="1" height="2" fill="#008000"/>
<rect x="1265.5" y="207.5" width="2" height="2" fill="#fff" stroke="#008000" stroke-width="1"/>
<rect x="1269" y="203" width="1" height="26" fill="#ff0000"/>
<rect x="1268" y="208" width="2" height="17" fill="#ff0000"/>
<rect x="1272" y="214" width="1" height="23" fill="#ff0000"/>
<rect x="1271" y="225" width="2" height="8" fill="#ff0000"/>
<rect x="1275" y="210" width="1" height="1" fill="#008000"/>
<rect x="1274.5" y="211.5" width="2" height="23" fill="#fff" stroke="#008000" stroke-width="1"/>
<rect x="1278" y="207" width="1" height="18" fill="#ff0000"/>
<rect x="1277" y="211" width="2" height="12" fill="#ff0000"/>
<rect x="1280" y="210" width="1" height="10" fill="#008000"/>
<rect x="1280" y="222" width="1" height="15" fill="#008000"/>
<rect x="1279.5" y="220.5" width="2" height="2" fill="#fff" stroke="#008000" stroke-width="1"/>
<rect x="1283" y="204" width="1" height="22" fill="#ff0000"/>
<rect x="1282" y="220" width="2" height="3" fill="#ff0000"/>
<rect x="1286" y="212" width="1" height="1" fill="#008000"/>
<rect x="1286" y="223" width="1" height="3" fill="#008000"/>
<rect x="1285.5" y="213.5" width="2" height="10" fill="#fff" stroke="#008000" stroke-width="1"/>
<rect x="1289" y="183" width="1" height="4" fill="#008000"/>
<rect x="1288.5" y="187.5" width="2" height="27" fill="#fff" stroke="#008000" stroke-width="1"/>
<rect x="1292" y="166" width="1" height="4" fill="#008000"/>
<rect x="1292" y="188" width="1" height="3" fill="#008000"/>
<rect x="1291.5" y="170.5" width="2" height="18" fill="#fff" stroke="#008000" stroke-width="1"/>
<rect x="1295" y="169" width="1" height="7" fill="#ff0000"/>
<rect x="1294" y="170" width="2" height="2" fill="#ff0000"/>
<rect x="1298" y="167" width="1" height="14" fill="#ff0000"/>
<rect x="1297" y="172" width="2" height="5" fill="#ff0000"/>
<rect x="1301" y="161" width="1" height="9" fill="#008000"/>
<rect x="1301" y="177" width="1" height="4" fill="#008000"/>
<rect x="1300.5" y="170.5" width="2" height="7" fill="#fff" stroke="#008000" stroke-width="1"/>
<rect x="1304" y="168" width="1" height="31" fill="#ff0000"/>
<rect x="1303" y="169" width="2" height="28" fill="#ff0000"/>
<rect x="1307" y="196" width="1" height="29" fill="#ff0000"/>
<rect x="1306" y="198" width="2" height="7" fill="#ff0000"/>
<rect x="1310" y="205" width="1" height="33" fill="#ff0000"/>
<rect x="1309" y="207" width="2" height="25" fill="#ff0000"/>
<rect x="1313" y="216" width="1" height="13" fill="#008000"/>
<rect x="1313" y="232" width="1" height="2" fill="#008000"/>
<rect x="1312.5" y="229.5" width="2" height="3" fill="#fff" stroke="#008000" stroke-width="1"/>
<rect x="1316" y="219" width="1" height="7" fill="#008000"/>
<rect x="1316" y="227" width="1" height="7" fill="#008000"/>
<rect x="1315" y="226" width="3" height="2" fill="#008000"/>
<rect x="1319" y="220" width="1" height="5" fill="#008000"/>
<rect x="1319" y="226" width="1" height="6" fill="#008000"/>
<rect x="1318" y="225" width="3" height="2" fill="#008000"/>
<rect x="1322" y="219" width="1" height="48" fill="#ff0000"/>
<rect x="1321" y="225" width="2" height="11" fill="#ff0000"/>
<rect x="1325" y="222" width="1" height="6" fill="#008000"/>
<rect x="1324.5" y="228.5" width="2" height="11" fill="#fff" stroke="#008000" stroke-width="1"/>
<rect x="1328" y="228" width="1" height="2" fill="#008000"/>
<rect x="1327.5" y="191.5" width="2" height="37" fill="#fff" stroke="#008000" stroke-width="1"/>
<rect x="1330" y="171" width="1" height="11" fill="#008000"/>
<rect x="1330" y="191" width="1" height="14" fill="#008000"/>
<rect x="1329.5" y="182.5" width="2" height="9" fill="#fff" stroke="#008000" stroke-width="1"/>
<rect x="1333" y="165" width="1" height="2" fill="#008000"/>
<rect x="1333" y="183" width="1" height="1" fill="#008000"/>
<rect x="1332.5" y="167.5" width="2" height="16" fill="#fff" stroke="#008000" stroke-width="1"/>
<rect x="1336" y="87" width="1" height="11" fill="#008000"/>
<rect x="1336" y="166" width="1" height="4" fill="#008000"/>
<rect x="1335.5" y="98.5" width="2" height="68" fill="#fff" stroke="#008000" stroke-width="1"/>
<rect x="1339" y="52" width="1" height="85" fill="#ff0000"/>
<rect x="1338" y="99" width="2" height="14" fill="#ff0000"/>
<rect x="1342" y="83" width="1" height="66" fill="#ff0000"/>
<rect x="1341" y="112" width="2" height="17" fill="#ff0000"/>
<rect x="1345" y="102" width="1" height="14" fill="#008000"/>
<rect x="1345" y="130" width="1" height="74" fill="#008000"/>
<rect x="1344.5" y="116.5" width="2" height="14" fill="#fff" stroke="#008000" stroke-width="1"/>
<rect x="1348" y="84" width="1" height="21" fill="#008000"/>
<rect x="1348" y="116" width="1" height="3" fill="#008000"/>
<rect x="1347.5" y="105.5" width="2" height="11" fill="#fff" stroke="#008000" stroke-width="1"/>
<rect x="1351" y="104" width="1" height="25" fill="#ff0000"/>
<rect x="1350" y="105" width="2" height="6" fill="#ff0000"/>
<rect x="1354" y="87" width="1" height="33" fill="#ff0000"/>
<rect x="1353" y="111" width="2" height="1" fill="#ff0000"/>
<rect x="1357" y="101" width="1" height="7" fill="#008000"/>
<rect x="1357" y="112" width="1" height="10" fill="#008000"/>
<rect x="1356.5" y="108.5" width="2" height="4" fill="#fff" stroke="#008000" stroke-width="1"/>
<rect x="1360" y="102" width="1" height="30" fill="#ff0000"/>
<rect x="1359" y="108" width="2" height="22" fill="#ff0000"/>
<rect x="1363" y="128" width="1" height="36" fill="#ff0000"/>
<rect x="1362" y="132" width="2" height="8" fill="#ff0000"/>
<rect x="1366" y="126" width="1" height="31" fill="#ff0000"/>
<rect x="1365" y="140" width="2" height="13" fill="#ff0000"/>
<rect x="1369" y="135" width="1" height="17" fill="#008000"/>
<rect x="1369" y="153" width="1" height="8" fill="#008000"/>
<rect x="1368" y="152" width="3" height="2" fill="#008000"/>
<rect x="1372" y="125" width="1" height="9" fill="#008000"/>
<rect x="1372" y="153" width="1" height="1" fill="#008000"/>
<rect x="1371.5" y="134.5" width="2" height="19" fill="#fff" stroke="#008000" stroke-width="1"/>
<rect x="1375" y="130" width="1" height="21" fill="#ff0000"/>
<rect x="1374" y="135" width="2" height="11" fill="#ff0000"/>
<rect x="1378" y="142" width="1" height="36" fill="#ff0000"/>
<rect x="1377" y="146" width="2" height="32" fill="#ff0000"/>
<rect x="1381" y="168" width="1" height="50" fill="#ff0000"/>
<rect x="1380" y="178" width="2" height="18" fill="#ff0000"/>
<rect x="1383" y="168" width="1" height="5" fill="#008000"/>
<rect x="1383" y="197" width="1" height="54" fill="#008000"/>
<rect x="1382.5" y="173.5" width="2" height="24" fill="#fff" stroke="#008000" stroke-width="1"/>
<rect x="1386" y="166" width="1" height="31" fill="#ff0000"/>
<rect x="1385" y="173" width="2" height="16" fill="#ff0000"/>
<rect x="1389" y="185" width="1" height="28" fill="#ff0000"/>
<rect x="1388" y="190" width="2" height="20" fill="#ff0000"/>
<rect x="1392" y="192" width="1" height="36" fill="#ff0000"/>
<rect x="1391" y="210" width="2" height="13" fill="#ff0000"/>
<rect x="1395" y="196" width="1" height="22" fill="#008000"/>
<rect x="1395" y="225" width="1" height="1" fill="#008000"/>
<rect x="1394.5" y="218.5" width="2" height="7" fill="#fff" stroke="#008000" stroke-width="1"/>
<rect x="1398" y="201" width="1" height="3" fill="#008000"/>
<rect x="1398" y="219" width="1" height="2" fill="#008000"/>
<rect x="1397.5" y="204.5" width="2" height="15" fill="#fff" stroke="#008000" stroke-width="1"/>
<rect x="1401" y="189" width="1" height="12" fill="#008000"/>
<rect x="1401" y="204" width="1" height="11" fill="#008000"/>
<rect x="1400.5" y="201.5" width="2" height="3" fill="#fff" stroke="#008000" stroke-width="1"/>
<rect x="1404" y="186" width="1" height="24" fill="#ff0000"/>
<rect x="1403" y="201" width="2" height="1" fill="#ff0000"/>
<rect x="1407" y="191" width="1" height="21" fill="#ff0000"/>
<rect x="1406" y="202" width="2" height="3" fill="#ff0000"/>
<rect x="1410" y="205" width="1" height="20" fill="#ff0000"/>
<rect x="1409" y="207" width="2" height="2" fill="#ff0000"/>
<rect x="1413" y="206" width="1" height="18" fill="#ff0000"/>
<rect x="1412" y="209" width="2" height="3" fill="#ff0000"/>
<rect x="1416" y="193" width="1" height="10" fill="#008000"/>
<rect x="1415.5" y="203.5" width="2" height="10" fill="#fff" stroke="#008000" stroke-width="1"/>
<rect x="1419" y="202" width="1" height="15" fill="#ff0000"/>
<rect x="1418" y="203" width="2" height="11" fill="#ff0000"/>
<rect x="1422" y="210" width="1" height="20" fill="#ff0000"/>
<rect x="1421" y="214" width="2" height="11" fill="#ff0000"/>
<rect x="1425" y="223" width="1" height="32" fill="#ff0000"/>
<rect x="1424" y="226" width="2" height="21" fill="#ff0000"/>
<rect x="1428" y="245" width="1" height="41" fill="#ff0000"/>
<rect x="1427" y="248" width="2" height="19" fill="#ff0000"/>
<rect x="1431" y="256" width="1" height="23" fill="#ff0000"/>
<rect x="1430" y="267" width="2" height="1" fill="#ff0000"/>
<rect x="1434" y="269" width="1" height="1" fill="#008000"/>
<rect x="1433.5" y="251.5" width="2" height="18" fill="#fff" stroke="#008000" stroke-width="1"/>
<rect x="1436" y="242" width="1" height="30" fill="#ff0000"/>
<rect x="1435" y="251" width="2" height="18" fill="#ff0000"/>
<rect x="1439" y="254" width="1" height="6" fill="#008000"/>
<rect x="1439" y="269" width="1" height="1" fill="#008000"/>
<rect x="1438.5" y="260.5" width="2" height="9" fill="#fff" stroke="#008000" stroke-width="1"/>
<rect x="1442" y="258" width="1" height="15" fill="#ff0000"/>
<rect x="1441" y="260" width="2" height="9" fill="#ff0000"/>
<rect x="1445" y="266" width="1" height="80" fill="#ff0000"/>
<rect x="1444" y="270" width="2" height="65" fill="#ff0000"/>
<rect x="1448" y="321" width="1" height="8" fill="#008000"/>
<rect x="1448" y="336" width="1" height="26" fill="#008000"/>
<rect x="1447.5" y="329.5" width="2" height="7" fill="#fff" stroke="#008000" stroke-width="1"/>
<rect x="1451" y="326" width="1" height="40" fill="#ff0000"/>
<rect x="1450" y="329" width="2" height="23" fill="#ff0000"/>
<rect x="1454" y="332" width="1" height="15" fill="#008000"/>
<rect x="1454" y="352" width="1" height="3" fill="#008000"/>
<rect x="1453.5" y="347.5" width="2" height="5" fill="#fff" stroke="#008000" stroke-width="1"/>
<rect x="1457" y="317" width="1" height="1" fill="#008000"/>
<rect x="1457" y="347" width="1" height="35" fill="#008000"/>
<rect x="1456.5" y="318.5" width="2" height="29" fill="#fff" stroke="#008000" stroke-width="1"/>
<rect x="1460" y="311" width="1" height="32" fill="#ff0000"/>
<rect x="1459" y="318" width="2" height="11" fill="#ff0000"/>
<rect x="1463" y="244" width="1" height="1" fill="#008000"/>
<rect x="1463" y="329" width="1" height="10" fill="#008000"/>
<rect x="1462.5" y="245.5" width="2" height="84" fill="#fff" stroke="#008000" stroke-width="1"/>
<rect x="1466" y="245" width="1" height="97" fill="#ff0000"/>
<rect x="1465" y="246" width="2" height="87" fill="#ff0000"/>
<rect x="1469" y="322" width="1" height="4" fill="#008000"/>
<rect x="1469" y="336" width="1" height="30" fill="#008000"/>
<rect x="1468.5" y="326.5" width="2" height="10" fill="#fff" stroke="#008000" stroke-width="1"/>
<rect x="1472" y="314" width="1" height="9" fill="#008000"/>
<rect x="1472" y="327" width="1" height="12" fill="#008000"/>
<rect x="1471.5" y="323.5" width="2" height="4" fill="#fff" stroke="#008000" stroke-width="1"/>
<rect x="1475" y="306" width="1" height="26" fill="#ff0000"/>
<rect x="1474" y="324" width="2" height="6" fill="#ff0000"/>
<rect x="1478" y="312" width="1" height="44" fill="#ff0000"/>
<rect x="1477" y="330" width="2" height="12" fill="#ff0000"/>
<rect x="1481" y="337" width="1" height="16" fill="#ff0000"/>
<rect x="1480" y="342" width="2" height="6" fill="#ff0000"/>
<rect x="1484" y="341" width="1" height="41" fill="#ff0000"/>
<rect x="1483" y="349" width="2" height="30" fill="#ff0000"/>
<rect x="1487" y="365" width="1" height="49" fill="#ff0000"/>
<rect x="1486" y="380" width="2" height="24" fill="#ff0000"/>
</svg>
<div class="abs" style="left:110px;top:380px;width:1469px;height:14px;background:rgba(200,207,214,0.72);"></div>
<svg width="1878" height="924" viewBox="0 0 1878 924">
<g stroke="#ff0000" stroke-width="2" fill="#ff0000"><line x1="243" y1="284" x2="200" y2="363"/><polygon points="194.5,355 195.2,371.6 208.8,363.1" stroke="none"/></g>
<g stroke="#008000" stroke-width="2" fill="#008000">
<line x1="456.8" y1="497" x2="499" y2="417"/><polygon points="490.3,416.6 503.9,408 504.7,423.8" stroke="none"/>
<line x1="679.6" y1="496.2" x2="722" y2="416"/><polygon points="713.2,415.8 727.2,407.5 727.8,422.7" stroke="none"/>
<line x1="792.7" y1="497" x2="835" y2="417"/><polygon points="826.3,416.6 840.3,408.3 840.9,423.8" stroke="none"/>
<line x1="898.7" y1="496.2" x2="941" y2="416"/><polygon points="932.2,415.8 946.3,407.5 946.8,422.7" stroke="none"/>
</g>
</svg>
<div class="abs" style="left:1590.6px;top:372.8px;font-size:24.9px;line-height:28px;color:#000;">$120</div>
<div class="abs" id="big" style="left:781px;top:635.2px;font-size:48.6px;line-height:56px;color:#000;white-space:nowrap;letter-spacing:0.33px;">Solana $SOL</div>
<div class="abs" style="left:904px;top:896.6px;font-size:11.5px;line-height:14px;color:#222;white-space:nowrap;">10th Mar 2025</div>
<div class="abs" style="left:1742px;top:384px;width:102px;height:40px;background:#00ff00;"></div>
<div class="abs" style="left:1747.8px;top:388.4px;font-size:30px;line-height:30px;color:#000;white-space:nowrap;letter-spacing:0.3px;">118.53</div>
<div class="abs" style="left:1845px;top:388px;width:24px;height:5px;background:#f1dddd;"></div>
<div class="abs" style="left:1857px;top:387px;width:12px;height:9px;background:#e3b9b9;"></div>
<div class="abs" style="left:1845px;top:396px;width:24px;height:9px;background:#e2b6b6;"></div>
<div class="abs" style="left:1845px;top:405px;width:24px;height:14px;background:#b3cfb5;"></div>
<div class="abs" style="left:1845px;top:411px;width:16px;height:2px;background:#c0d8c2;"></div>
<div class="abs" style="left:1859px;top:434px;width:12px;height:29px;border:1px solid #c4c4c4;border-right:none;border-radius:3px 0 0 3px;background:#fff;box-sizing:border-box;"></div>
<svg width="1878" height="924" viewBox="0 0 1878 924"><polyline points="1868.5,445 1863.5,449.2 1868.5,453.4" fill="none" stroke="#6e6e6e" stroke-width="2.8"/></svg>
<div class="abs" style="left:1843px;top:25px;width:28px;height:27px;background:#f7f7f7;border-left:1px solid #c9c9c9;border-bottom:1px solid #c9c9c9;box-sizing:border-box;"></div>
<svg width="1878" height="924" viewBox="0 0 1878 924">
<path d="M1851.9,37 v-3.2 a5.1,5.1 0 0 1 10.2,0 v3.2" fill="none" stroke="#6b6b6b" stroke-width="2.8"/>
<rect x="1848" y="36.4" width="18" height="10.6" rx="1" fill="#6b6b6b"/>
<circle cx="1857" cy="40.4" r="1.3" fill="#f7f7f7"/><path d="M1856.2,40.5 h1.6 l0.5,4 h-2.6 z" fill="#f7f7f7"/>
</svg>
<svg width="1878" height="924" viewBox="0 0 1878 924">
<defs><clipPath id="obx"><rect x="1790" y="3.9" width="21" height="21.1" rx="2.4"/></clipPath></defs>
<rect x="1790" y="3.9" width="21" height="21.1" rx="2.4" fill="#0a3f77"/>
<circle cx="1804.2" cy="17.7" r="9.6" fill="#fff" clip-path="url(#obx)"/>
<circle cx="1804.2" cy="17.7" r="6.2" fill="#0a3f77"/>
<polygon points="1796.8,10.5 1797.4,11.7 1802.9,12.4 1802.9,11.8" fill="#0a3f77"/>
<polygon points="1798.8,15.3 1800,13.9 1802.3,13.7 1802.3,14.8 1800.3,15.1 1799.3,15.9" fill="#fff"/>
<text x="1812.6" y="21" font-family="'Liberation Sans',Arial,sans-serif" font-weight="bold" font-size="18.5" fill="#0a3f77" stroke="#0a3f77" stroke-width="0.35" textLength="56.5" lengthAdjust="spacingAndGlyphs">Optuma</text>
<polygon points="1871.6,8.6 1872.1,9.9 1873.4,10.4 1872.1,10.9 1871.6,12.2 1871.1,10.9 1869.8,10.4 1871.1,9.9" fill="#0a3f77"/>
</svg>
<svg width="1878" height="924" viewBox="0 0 1878 924"><g fill="#e31937"><polygon points="128.42,60.31 133.07,62.17 136.43,58.46 136.10,63.46 140.67,65.51 135.81,66.74 135.28,71.72 132.61,67.48 127.70,68.51 130.91,64.66"/><polygon points="144.50,47.37 148.13,50.83 152.63,48.63 150.46,53.15 153.95,56.76 148.98,56.09 146.63,60.52 145.73,55.59 140.79,54.72 145.20,52.34"/><polygon points="165.03,41.62 167.05,46.21 172.06,45.90 168.32,49.24 170.17,53.91 165.83,51.39 161.96,54.58 163.02,49.68 158.79,46.99 163.77,46.48"/><polygon points="186.84,44.77 186.89,49.78 191.60,51.49 186.84,53.07 186.68,58.08 183.70,54.05 178.89,55.44 181.80,51.37 178.99,47.22 183.77,48.73"/><polygon points="204.87,54.89 203.02,59.56 206.76,62.90 201.75,62.59 199.73,67.18 198.47,62.32 193.49,61.81 197.72,59.12 196.66,54.22 200.53,57.41"/><polygon points="218.26,71.56 214.76,75.16 216.92,79.68 212.42,77.47 208.78,80.92 209.50,75.95 205.09,73.56 210.03,72.71 210.95,67.78 213.29,72.21"/><polygon points="223.88,92.10 219.28,94.08 219.53,99.09 216.23,95.32 211.55,97.11 214.11,92.80 210.96,88.90 215.85,90.01 218.58,85.80 219.04,90.80"/><polygon points="222.05,110.62 217.19,110.93 215.79,115.59 214.00,111.07 209.13,111.18 212.88,108.07 211.27,103.47 215.38,106.08 219.26,103.13 218.05,107.85"/><polygon points="214.46,121.63 211.58,121.09 210.07,123.62 209.69,120.70 206.82,120.05 209.48,118.79 209.21,115.86 211.23,117.99 213.93,116.84 212.53,119.42"/><polygon points="208.26,129.80 205.74,128.78 203.91,130.80 204.10,128.08 201.61,126.96 204.25,126.30 204.55,123.60 206.00,125.90 208.66,125.35 206.91,127.43"/><polygon points="200.85,137.04 198.64,135.58 196.50,137.14 197.20,134.59 195.05,133.04 197.70,132.92 198.51,130.40 199.44,132.88 202.09,132.87 200.02,134.52"/><polygon points="192.19,142.13 190.35,140.32 188.02,141.41 189.17,139.11 187.42,137.22 189.96,137.61 191.21,135.35 191.63,137.90 194.16,138.39 191.87,139.57"/><polygon points="182.70,145.48 181.30,143.41 178.86,144.00 180.40,142.03 179.08,139.89 181.44,140.75 183.06,138.83 182.97,141.34 185.30,142.29 182.89,142.98"/><polygon points="172.82,147.09 171.87,144.85 169.44,144.96 171.28,143.36 170.43,141.08 172.51,142.34 174.42,140.83 173.86,143.20 175.89,144.54 173.47,144.75"/><polygon points="162.76,146.47 162.29,144.16 159.95,143.80 162.01,142.63 161.63,140.30 163.37,141.89 165.48,140.81 164.50,142.96 166.18,144.63 163.83,144.36"/><polygon points="152.89,144.43 152.89,142.21 150.80,141.45 152.91,140.76 152.99,138.54 154.30,140.33 156.44,139.72 155.14,141.52 156.38,143.36 154.26,142.69"/><polygon points="145.88,140.82 146.14,139.12 144.63,138.29 146.33,138.01 146.66,136.32 147.45,137.85 149.15,137.64 147.95,138.86 148.67,140.42 147.14,139.65"/><polygon points="140.55,137.44 140.94,136.06 139.79,135.22 141.22,135.16 141.66,133.80 142.16,135.14 143.59,135.15 142.47,136.03 142.91,137.40 141.71,136.60"/><polygon points="135.93,133.59 136.37,132.54 135.54,131.76 136.68,131.85 137.16,130.81 137.43,131.92 138.56,132.06 137.59,132.66 137.81,133.78 136.94,133.04"/><polygon points="131.51,128.65 131.98,127.84 131.39,127.12 132.30,127.32 132.80,126.53 132.89,127.46 133.80,127.69 132.94,128.07 133.00,129.00 132.38,128.31"/></g>
<g font-family="'Liberation Sans',Arial,sans-serif" font-weight="bold" font-size="25.6" fill="#14284b" stroke="#14284b" stroke-width="0.7">
<text x="32.2" y="95.5" textLength="153.6" lengthAdjust="spacing">ALL STAR</text>
<text x="43.2" y="121.4" textLength="131.8" lengthAdjust="spacing">CHARTS</text></g></svg>
</body></html>
